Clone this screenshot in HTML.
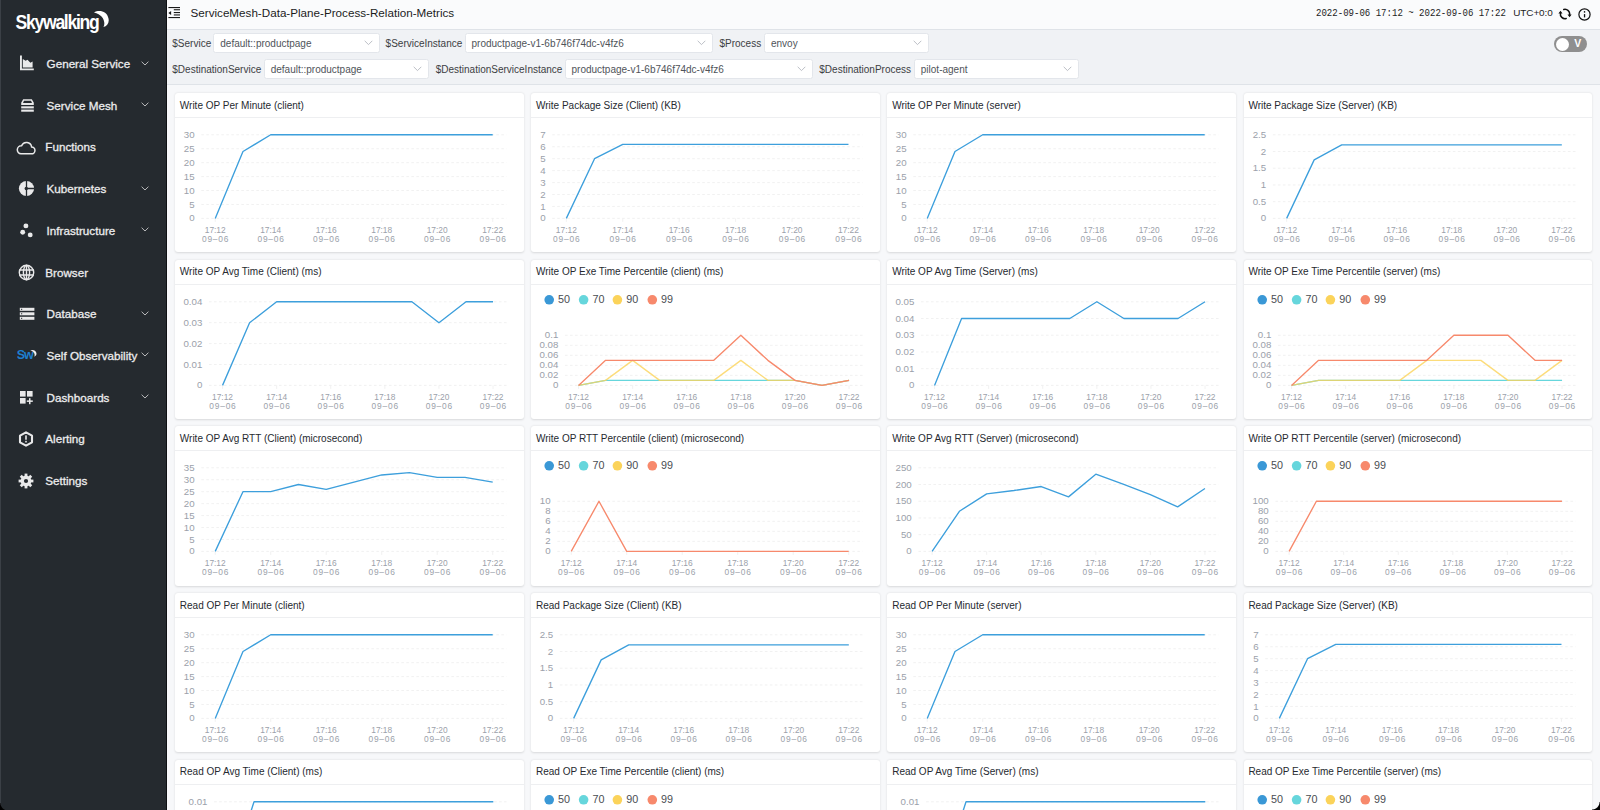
<!DOCTYPE html>
<html><head><meta charset="utf-8"><title>SkyWalking</title>
<style>
*{box-sizing:border-box;margin:0;padding:0}
html,body{width:1600px;height:810px;overflow:hidden;background:#f7f8fa;font-family:'Liberation Sans', sans-serif}
.abs{position:absolute}
#side{position:absolute;left:0;top:0;width:166.7px;height:810px;background:#252a2f;border-right:1.9px solid #0e1013;box-shadow:inset 1px 0 0 #3b4046}
.logo{position:absolute;left:15.6px;top:11.4px;color:#fff;font-weight:700;font-size:17.6px;letter-spacing:-1.3px;transform:scaleY(1.1);transform-origin:0 0;line-height:20px;font-family:'Liberation Sans', sans-serif}
.ni{position:absolute;line-height:0}
.nt{position:absolute;color:#ececed;font-size:11.67px;line-height:15px;white-space:nowrap;-webkit-text-stroke:0.3px #ececed}
#top{position:absolute;left:166px;top:0;width:1434px;height:30px;background:#fafbfc;border-bottom:1px solid #dfe3e8}
#title{position:absolute;left:190.5px;top:5.5px;font-size:11.67px;color:#1c1c1c;white-space:nowrap}
#filt{position:absolute;left:166px;top:30px;width:1434px;height:55px;background:#f0f2f5;border-bottom:1px solid #dfe3e8}
.lab{position:absolute;font-size:10px;color:#3c4043;white-space:nowrap;line-height:14px}
.sel{position:absolute;height:19.6px;background:#fff;border:1px solid #e3e6eb;border-radius:2.5px;font-size:10px;color:#50545a;line-height:17px;white-space:nowrap}
.sel span{position:absolute;left:6px;top:0;transform:translateY(0.6px)}
.sel i{position:absolute;top:6px;line-height:0}
.panel{position:absolute;width:348.8px;height:159.2px;background:#fff;border-radius:3px;box-shadow:0 0.6px 2.2px rgba(0,0,0,0.13);overflow:hidden}
.ph{position:absolute;left:0;top:0;width:100%;height:25.1px;border-bottom:1px solid #eeeff1}
.pt{position:absolute;left:4.8px;top:6.7px;font-size:10px;color:#262a30;white-space:nowrap}
.cs{position:absolute;left:0;top:0}
.ya{font-family:'Liberation Sans', sans-serif;font-size:9.7px;fill:#9ba1aa}
.xa{font-family:'Liberation Sans', sans-serif;font-size:8.4px;fill:#9ba1aa}
.lg{font-family:'Liberation Sans', sans-serif;font-size:10.8px;fill:#4a4d52}
</style></head><body>
<div id="top">
</div>
<div class="abs" style="left:168px;top:6px;line-height:0"><svg width="13" height="13" viewBox="0 0 13 13"><g fill="#1a1a1a"><rect x="0.4" y="1" width="11.6" height="1.1"/><rect x="0.4" y="11" width="11.6" height="1.1"/><rect x="5.8" y="3.2" width="6.2" height="1.1"/><rect x="5.8" y="6" width="6.2" height="1.1"/><rect x="5.8" y="8.4" width="6.2" height="1.1"/><path d="M0.4 6.95 L3.1 4.9 V9 Z"/></g></svg></div>
<div id="title">ServiceMesh-Data-Plane-Process-Relation-Metrics</div>
<div class="abs" style="left:1316px;top:6.3px;font-family:'Liberation Mono', monospace;font-size:11.6px;transform:scaleX(0.78);transform-origin:0 0;color:#1e1e1e;white-space:nowrap">2022-09-06 17:12 ~ 2022-09-06 17:22</div>
<div class="abs" style="left:1513.3px;top:6.6px;font-size:9.95px;letter-spacing:-0.1px;color:#1e1e1e;white-space:nowrap">UTC+0:0</div>
<div class="abs" style="left:1558px;top:8px;line-height:0"><svg width="14" height="13" viewBox="0 0 14 13"><g fill="none" stroke="#111" stroke-width="1.5" stroke-linecap="round"><path d="M5.78 1.46 A4.7 4.7 0 0 1 11.54 7.0"/><path d="M8.22 10.54 A4.7 4.7 0 0 1 2.46 5.0"/></g><path d="M9.5 6.6 L13.6 6.6 L11.6 9.3 Z M0.4 5.4 L4.5 5.4 L2.5 2.7 Z" fill="#111"/></svg></div>
<div class="abs" style="left:1577.5px;top:7.8px;line-height:0"><svg width="13" height="13" viewBox="0 0 13 13"><circle cx="6.5" cy="6.5" r="5.6" fill="none" stroke="#111" stroke-width="1.2"/><rect x="5.9" y="6.1" width="1.3" height="3.3" fill="#111"/><circle cx="6.55" cy="3.9" r="0.8" fill="#111"/></svg></div>
<div id="filt"></div>
<div class="lab" style="left:172.3px;top:37px">$Service</div><div class="sel" style="left:213.3px;top:33.2px;width:166.6px"><span>default::productpage</span><i style="left:149.6px"><svg width="9" height="6" viewBox="0 0 9 6"><path d="M0.7 0.8 L4.5 4.6 L8.3 0.8" fill="none" stroke="#b4b8bf" stroke-width="0.9"/></svg></i></div><div class="lab" style="left:385.6px;top:37px">$ServiceInstance</div><div class="sel" style="left:464.5px;top:33.2px;width:248.8px"><span>productpage-v1-6b746f74dc-v4fz6</span><i style="left:231.8px"><svg width="9" height="6" viewBox="0 0 9 6"><path d="M0.7 0.8 L4.5 4.6 L8.3 0.8" fill="none" stroke="#b4b8bf" stroke-width="0.9"/></svg></i></div><div class="lab" style="left:719.5px;top:37px">$Process</div><div class="sel" style="left:764px;top:33.2px;width:165.3px"><span>envoy</span><i style="left:148.3px"><svg width="9" height="6" viewBox="0 0 9 6"><path d="M0.7 0.8 L4.5 4.6 L8.3 0.8" fill="none" stroke="#b4b8bf" stroke-width="0.9"/></svg></i></div><div class="lab" style="left:172.3px;top:62.8px">$DestinationService</div><div class="sel" style="left:263.7px;top:59.1px;width:165.6px"><span>default::productpage</span><i style="left:148.6px"><svg width="9" height="6" viewBox="0 0 9 6"><path d="M0.7 0.8 L4.5 4.6 L8.3 0.8" fill="none" stroke="#b4b8bf" stroke-width="0.9"/></svg></i></div><div class="lab" style="left:435.7px;top:62.8px">$DestinationServiceInstance</div><div class="sel" style="left:564.5px;top:59.1px;width:248.6px"><span>productpage-v1-6b746f74dc-v4fz6</span><i style="left:231.6px"><svg width="9" height="6" viewBox="0 0 9 6"><path d="M0.7 0.8 L4.5 4.6 L8.3 0.8" fill="none" stroke="#b4b8bf" stroke-width="0.9"/></svg></i></div><div class="lab" style="left:819.3px;top:62.8px">$DestinationProcess</div><div class="sel" style="left:913.8px;top:59.1px;width:165.4px"><span>pilot-agent</span><i style="left:148.4px"><svg width="9" height="6" viewBox="0 0 9 6"><path d="M0.7 0.8 L4.5 4.6 L8.3 0.8" fill="none" stroke="#b4b8bf" stroke-width="0.9"/></svg></i></div>
<div class="abs" style="left:1554px;top:36.3px;width:33px;height:16px;border-radius:8px;background:#8f8f8f"></div>
<div class="abs" style="left:1555.5px;top:37.6px;width:13.4px;height:13.4px;border-radius:50%;background:#fff"></div>
<div class="abs" style="left:1574.3px;top:37.3px;font-size:10.5px;color:#fff;font-weight:700">V</div>
<div class="panel" style="left:175.0px;top:93.2px;height:159.2px">
<div class="ph"><span class="pt">Write OP Per Minute (client)</span></div>
<svg class="cs" width="348.8" height="159.2" viewBox="0 0 348.8 159.2">
<line x1="26.33" y1="125.40" x2="331.60" y2="125.40" stroke="#efefef" stroke-width="0.9" stroke-dasharray="2.6 2.4"/>
<text x="19.63" y="128.50" text-anchor="end" class="ya">0</text>
<line x1="26.33" y1="111.47" x2="331.60" y2="111.47" stroke="#efefef" stroke-width="0.9" stroke-dasharray="2.6 2.4"/>
<text x="19.63" y="114.57" text-anchor="end" class="ya">5</text>
<line x1="26.33" y1="97.53" x2="331.60" y2="97.53" stroke="#efefef" stroke-width="0.9" stroke-dasharray="2.6 2.4"/>
<text x="19.63" y="100.63" text-anchor="end" class="ya">10</text>
<line x1="26.33" y1="83.60" x2="331.60" y2="83.60" stroke="#efefef" stroke-width="0.9" stroke-dasharray="2.6 2.4"/>
<text x="19.63" y="86.70" text-anchor="end" class="ya">15</text>
<line x1="26.33" y1="69.67" x2="331.60" y2="69.67" stroke="#efefef" stroke-width="0.9" stroke-dasharray="2.6 2.4"/>
<text x="19.63" y="72.77" text-anchor="end" class="ya">20</text>
<line x1="26.33" y1="55.73" x2="331.60" y2="55.73" stroke="#efefef" stroke-width="0.9" stroke-dasharray="2.6 2.4"/>
<text x="19.63" y="58.83" text-anchor="end" class="ya">25</text>
<line x1="26.33" y1="41.80" x2="331.60" y2="41.80" stroke="#efefef" stroke-width="0.9" stroke-dasharray="2.6 2.4"/>
<text x="19.63" y="44.90" text-anchor="end" class="ya">30</text>
<line x1="40.21" y1="125.40" x2="40.21" y2="128.90" stroke="#eeeeee" stroke-width="0.8"/>
<text x="40.21" y="139.70" text-anchor="middle" class="xa">17:12</text>
<text x="40.21" y="149.40" text-anchor="middle" class="xa" textLength="26.5" lengthAdjust="spacing">09–06</text>
<line x1="95.71" y1="125.40" x2="95.71" y2="128.90" stroke="#eeeeee" stroke-width="0.8"/>
<text x="95.71" y="139.70" text-anchor="middle" class="xa">17:14</text>
<text x="95.71" y="149.40" text-anchor="middle" class="xa" textLength="26.5" lengthAdjust="spacing">09–06</text>
<line x1="151.21" y1="125.40" x2="151.21" y2="128.90" stroke="#eeeeee" stroke-width="0.8"/>
<text x="151.21" y="139.70" text-anchor="middle" class="xa">17:16</text>
<text x="151.21" y="149.40" text-anchor="middle" class="xa" textLength="26.5" lengthAdjust="spacing">09–06</text>
<line x1="206.72" y1="125.40" x2="206.72" y2="128.90" stroke="#eeeeee" stroke-width="0.8"/>
<text x="206.72" y="139.70" text-anchor="middle" class="xa">17:18</text>
<text x="206.72" y="149.40" text-anchor="middle" class="xa" textLength="26.5" lengthAdjust="spacing">09–06</text>
<line x1="262.22" y1="125.40" x2="262.22" y2="128.90" stroke="#eeeeee" stroke-width="0.8"/>
<text x="262.22" y="139.70" text-anchor="middle" class="xa">17:20</text>
<text x="262.22" y="149.40" text-anchor="middle" class="xa" textLength="26.5" lengthAdjust="spacing">09–06</text>
<line x1="317.72" y1="125.40" x2="317.72" y2="128.90" stroke="#eeeeee" stroke-width="0.8"/>
<text x="317.72" y="139.70" text-anchor="middle" class="xa">17:22</text>
<text x="317.72" y="149.40" text-anchor="middle" class="xa" textLength="26.5" lengthAdjust="spacing">09–06</text>
<polyline points="40.21,125.40 67.96,58.52 95.71,41.80 123.46,41.80 151.21,41.80 178.97,41.80 206.72,41.80 234.47,41.80 262.22,41.80 289.97,41.80 317.72,41.80" fill="none" stroke="#3d9fdc" stroke-width="1.35" stroke-linejoin="round" />
</svg></div><div class="panel" style="left:531.2px;top:93.2px;height:159.2px">
<div class="ph"><span class="pt">Write Package Size (Client) (KB)</span></div>
<svg class="cs" width="348.8" height="159.2" viewBox="0 0 348.8 159.2">
<line x1="21.22" y1="125.40" x2="331.60" y2="125.40" stroke="#efefef" stroke-width="0.9" stroke-dasharray="2.6 2.4"/>
<text x="14.52" y="128.50" text-anchor="end" class="ya">0</text>
<line x1="21.22" y1="113.46" x2="331.60" y2="113.46" stroke="#efefef" stroke-width="0.9" stroke-dasharray="2.6 2.4"/>
<text x="14.52" y="116.56" text-anchor="end" class="ya">1</text>
<line x1="21.22" y1="101.51" x2="331.60" y2="101.51" stroke="#efefef" stroke-width="0.9" stroke-dasharray="2.6 2.4"/>
<text x="14.52" y="104.61" text-anchor="end" class="ya">2</text>
<line x1="21.22" y1="89.57" x2="331.60" y2="89.57" stroke="#efefef" stroke-width="0.9" stroke-dasharray="2.6 2.4"/>
<text x="14.52" y="92.67" text-anchor="end" class="ya">3</text>
<line x1="21.22" y1="77.63" x2="331.60" y2="77.63" stroke="#efefef" stroke-width="0.9" stroke-dasharray="2.6 2.4"/>
<text x="14.52" y="80.73" text-anchor="end" class="ya">4</text>
<line x1="21.22" y1="65.69" x2="331.60" y2="65.69" stroke="#efefef" stroke-width="0.9" stroke-dasharray="2.6 2.4"/>
<text x="14.52" y="68.79" text-anchor="end" class="ya">5</text>
<line x1="21.22" y1="53.74" x2="331.60" y2="53.74" stroke="#efefef" stroke-width="0.9" stroke-dasharray="2.6 2.4"/>
<text x="14.52" y="56.84" text-anchor="end" class="ya">6</text>
<line x1="21.22" y1="41.80" x2="331.60" y2="41.80" stroke="#efefef" stroke-width="0.9" stroke-dasharray="2.6 2.4"/>
<text x="14.52" y="44.90" text-anchor="end" class="ya">7</text>
<line x1="35.32" y1="125.40" x2="35.32" y2="128.90" stroke="#eeeeee" stroke-width="0.8"/>
<text x="35.32" y="139.70" text-anchor="middle" class="xa">17:12</text>
<text x="35.32" y="149.40" text-anchor="middle" class="xa" textLength="26.5" lengthAdjust="spacing">09–06</text>
<line x1="91.76" y1="125.40" x2="91.76" y2="128.90" stroke="#eeeeee" stroke-width="0.8"/>
<text x="91.76" y="139.70" text-anchor="middle" class="xa">17:14</text>
<text x="91.76" y="149.40" text-anchor="middle" class="xa" textLength="26.5" lengthAdjust="spacing">09–06</text>
<line x1="148.19" y1="125.40" x2="148.19" y2="128.90" stroke="#eeeeee" stroke-width="0.8"/>
<text x="148.19" y="139.70" text-anchor="middle" class="xa">17:16</text>
<text x="148.19" y="149.40" text-anchor="middle" class="xa" textLength="26.5" lengthAdjust="spacing">09–06</text>
<line x1="204.62" y1="125.40" x2="204.62" y2="128.90" stroke="#eeeeee" stroke-width="0.8"/>
<text x="204.62" y="139.70" text-anchor="middle" class="xa">17:18</text>
<text x="204.62" y="149.40" text-anchor="middle" class="xa" textLength="26.5" lengthAdjust="spacing">09–06</text>
<line x1="261.06" y1="125.40" x2="261.06" y2="128.90" stroke="#eeeeee" stroke-width="0.8"/>
<text x="261.06" y="139.70" text-anchor="middle" class="xa">17:20</text>
<text x="261.06" y="149.40" text-anchor="middle" class="xa" textLength="26.5" lengthAdjust="spacing">09–06</text>
<line x1="317.49" y1="125.40" x2="317.49" y2="128.90" stroke="#eeeeee" stroke-width="0.8"/>
<text x="317.49" y="139.70" text-anchor="middle" class="xa">17:22</text>
<text x="317.49" y="149.40" text-anchor="middle" class="xa" textLength="26.5" lengthAdjust="spacing">09–06</text>
<polyline points="35.32,125.40 63.54,65.69 91.76,51.35 119.97,51.35 148.19,51.35 176.41,51.35 204.62,51.35 232.84,51.35 261.06,51.35 289.27,51.35 317.49,51.35" fill="none" stroke="#3d9fdc" stroke-width="1.35" stroke-linejoin="round" />
</svg></div><div class="panel" style="left:887.4px;top:93.2px;height:159.2px">
<div class="ph"><span class="pt">Write OP Per Minute (server)</span></div>
<svg class="cs" width="348.8" height="159.2" viewBox="0 0 348.8 159.2">
<line x1="26.33" y1="125.40" x2="331.60" y2="125.40" stroke="#efefef" stroke-width="0.9" stroke-dasharray="2.6 2.4"/>
<text x="19.63" y="128.50" text-anchor="end" class="ya">0</text>
<line x1="26.33" y1="111.47" x2="331.60" y2="111.47" stroke="#efefef" stroke-width="0.9" stroke-dasharray="2.6 2.4"/>
<text x="19.63" y="114.57" text-anchor="end" class="ya">5</text>
<line x1="26.33" y1="97.53" x2="331.60" y2="97.53" stroke="#efefef" stroke-width="0.9" stroke-dasharray="2.6 2.4"/>
<text x="19.63" y="100.63" text-anchor="end" class="ya">10</text>
<line x1="26.33" y1="83.60" x2="331.60" y2="83.60" stroke="#efefef" stroke-width="0.9" stroke-dasharray="2.6 2.4"/>
<text x="19.63" y="86.70" text-anchor="end" class="ya">15</text>
<line x1="26.33" y1="69.67" x2="331.60" y2="69.67" stroke="#efefef" stroke-width="0.9" stroke-dasharray="2.6 2.4"/>
<text x="19.63" y="72.77" text-anchor="end" class="ya">20</text>
<line x1="26.33" y1="55.73" x2="331.60" y2="55.73" stroke="#efefef" stroke-width="0.9" stroke-dasharray="2.6 2.4"/>
<text x="19.63" y="58.83" text-anchor="end" class="ya">25</text>
<line x1="26.33" y1="41.80" x2="331.60" y2="41.80" stroke="#efefef" stroke-width="0.9" stroke-dasharray="2.6 2.4"/>
<text x="19.63" y="44.90" text-anchor="end" class="ya">30</text>
<line x1="40.21" y1="125.40" x2="40.21" y2="128.90" stroke="#eeeeee" stroke-width="0.8"/>
<text x="40.21" y="139.70" text-anchor="middle" class="xa">17:12</text>
<text x="40.21" y="149.40" text-anchor="middle" class="xa" textLength="26.5" lengthAdjust="spacing">09–06</text>
<line x1="95.71" y1="125.40" x2="95.71" y2="128.90" stroke="#eeeeee" stroke-width="0.8"/>
<text x="95.71" y="139.70" text-anchor="middle" class="xa">17:14</text>
<text x="95.71" y="149.40" text-anchor="middle" class="xa" textLength="26.5" lengthAdjust="spacing">09–06</text>
<line x1="151.21" y1="125.40" x2="151.21" y2="128.90" stroke="#eeeeee" stroke-width="0.8"/>
<text x="151.21" y="139.70" text-anchor="middle" class="xa">17:16</text>
<text x="151.21" y="149.40" text-anchor="middle" class="xa" textLength="26.5" lengthAdjust="spacing">09–06</text>
<line x1="206.72" y1="125.40" x2="206.72" y2="128.90" stroke="#eeeeee" stroke-width="0.8"/>
<text x="206.72" y="139.70" text-anchor="middle" class="xa">17:18</text>
<text x="206.72" y="149.40" text-anchor="middle" class="xa" textLength="26.5" lengthAdjust="spacing">09–06</text>
<line x1="262.22" y1="125.40" x2="262.22" y2="128.90" stroke="#eeeeee" stroke-width="0.8"/>
<text x="262.22" y="139.70" text-anchor="middle" class="xa">17:20</text>
<text x="262.22" y="149.40" text-anchor="middle" class="xa" textLength="26.5" lengthAdjust="spacing">09–06</text>
<line x1="317.72" y1="125.40" x2="317.72" y2="128.90" stroke="#eeeeee" stroke-width="0.8"/>
<text x="317.72" y="139.70" text-anchor="middle" class="xa">17:22</text>
<text x="317.72" y="149.40" text-anchor="middle" class="xa" textLength="26.5" lengthAdjust="spacing">09–06</text>
<polyline points="40.21,125.40 67.96,58.52 95.71,41.80 123.46,41.80 151.21,41.80 178.97,41.80 206.72,41.80 234.47,41.80 262.22,41.80 289.97,41.80 317.72,41.80" fill="none" stroke="#3d9fdc" stroke-width="1.35" stroke-linejoin="round" />
</svg></div><div class="panel" style="left:1243.6px;top:93.2px;height:159.2px">
<div class="ph"><span class="pt">Write Package Size (Server) (KB)</span></div>
<svg class="cs" width="348.8" height="159.2" viewBox="0 0 348.8 159.2">
<line x1="28.89" y1="125.40" x2="331.60" y2="125.40" stroke="#efefef" stroke-width="0.9" stroke-dasharray="2.6 2.4"/>
<text x="22.19" y="128.50" text-anchor="end" class="ya">0</text>
<line x1="28.89" y1="108.68" x2="331.60" y2="108.68" stroke="#efefef" stroke-width="0.9" stroke-dasharray="2.6 2.4"/>
<text x="22.19" y="111.78" text-anchor="end" class="ya">0.5</text>
<line x1="28.89" y1="91.96" x2="331.60" y2="91.96" stroke="#efefef" stroke-width="0.9" stroke-dasharray="2.6 2.4"/>
<text x="22.19" y="95.06" text-anchor="end" class="ya">1</text>
<line x1="28.89" y1="75.24" x2="331.60" y2="75.24" stroke="#efefef" stroke-width="0.9" stroke-dasharray="2.6 2.4"/>
<text x="22.19" y="78.34" text-anchor="end" class="ya">1.5</text>
<line x1="28.89" y1="58.52" x2="331.60" y2="58.52" stroke="#efefef" stroke-width="0.9" stroke-dasharray="2.6 2.4"/>
<text x="22.19" y="61.62" text-anchor="end" class="ya">2</text>
<line x1="28.89" y1="41.80" x2="331.60" y2="41.80" stroke="#efefef" stroke-width="0.9" stroke-dasharray="2.6 2.4"/>
<text x="22.19" y="44.90" text-anchor="end" class="ya">2.5</text>
<line x1="42.65" y1="125.40" x2="42.65" y2="128.90" stroke="#eeeeee" stroke-width="0.8"/>
<text x="42.65" y="139.70" text-anchor="middle" class="xa">17:12</text>
<text x="42.65" y="149.40" text-anchor="middle" class="xa" textLength="26.5" lengthAdjust="spacing">09–06</text>
<line x1="97.69" y1="125.40" x2="97.69" y2="128.90" stroke="#eeeeee" stroke-width="0.8"/>
<text x="97.69" y="139.70" text-anchor="middle" class="xa">17:14</text>
<text x="97.69" y="149.40" text-anchor="middle" class="xa" textLength="26.5" lengthAdjust="spacing">09–06</text>
<line x1="152.72" y1="125.40" x2="152.72" y2="128.90" stroke="#eeeeee" stroke-width="0.8"/>
<text x="152.72" y="139.70" text-anchor="middle" class="xa">17:16</text>
<text x="152.72" y="149.40" text-anchor="middle" class="xa" textLength="26.5" lengthAdjust="spacing">09–06</text>
<line x1="207.76" y1="125.40" x2="207.76" y2="128.90" stroke="#eeeeee" stroke-width="0.8"/>
<text x="207.76" y="139.70" text-anchor="middle" class="xa">17:18</text>
<text x="207.76" y="149.40" text-anchor="middle" class="xa" textLength="26.5" lengthAdjust="spacing">09–06</text>
<line x1="262.80" y1="125.40" x2="262.80" y2="128.90" stroke="#eeeeee" stroke-width="0.8"/>
<text x="262.80" y="139.70" text-anchor="middle" class="xa">17:20</text>
<text x="262.80" y="149.40" text-anchor="middle" class="xa" textLength="26.5" lengthAdjust="spacing">09–06</text>
<line x1="317.84" y1="125.40" x2="317.84" y2="128.90" stroke="#eeeeee" stroke-width="0.8"/>
<text x="317.84" y="139.70" text-anchor="middle" class="xa">17:22</text>
<text x="317.84" y="149.40" text-anchor="middle" class="xa" textLength="26.5" lengthAdjust="spacing">09–06</text>
<polyline points="42.65,125.40 70.17,66.88 97.69,51.83 125.21,51.83 152.72,51.83 180.24,51.83 207.76,51.83 235.28,51.83 262.80,51.83 290.32,51.83 317.84,51.83" fill="none" stroke="#3d9fdc" stroke-width="1.35" stroke-linejoin="round" />
</svg></div><div class="panel" style="left:175.0px;top:259.6px;height:159.0px">
<div class="ph"><span class="pt">Write OP Avg Time (Client) (ms)</span></div>
<svg class="cs" width="348.8" height="159.2" viewBox="0 0 348.8 159.2">
<line x1="34.00" y1="125.40" x2="331.60" y2="125.40" stroke="#efefef" stroke-width="0.9" stroke-dasharray="2.6 2.4"/>
<text x="27.30" y="128.50" text-anchor="end" class="ya">0</text>
<line x1="34.00" y1="104.50" x2="331.60" y2="104.50" stroke="#efefef" stroke-width="0.9" stroke-dasharray="2.6 2.4"/>
<text x="27.30" y="107.60" text-anchor="end" class="ya">0.01</text>
<line x1="34.00" y1="83.60" x2="331.60" y2="83.60" stroke="#efefef" stroke-width="0.9" stroke-dasharray="2.6 2.4"/>
<text x="27.30" y="86.70" text-anchor="end" class="ya">0.02</text>
<line x1="34.00" y1="62.70" x2="331.60" y2="62.70" stroke="#efefef" stroke-width="0.9" stroke-dasharray="2.6 2.4"/>
<text x="27.30" y="65.80" text-anchor="end" class="ya">0.03</text>
<line x1="34.00" y1="41.80" x2="331.60" y2="41.80" stroke="#efefef" stroke-width="0.9" stroke-dasharray="2.6 2.4"/>
<text x="27.30" y="44.90" text-anchor="end" class="ya">0.04</text>
<line x1="47.53" y1="125.40" x2="47.53" y2="128.90" stroke="#eeeeee" stroke-width="0.8"/>
<text x="47.53" y="139.70" text-anchor="middle" class="xa">17:12</text>
<text x="47.53" y="149.40" text-anchor="middle" class="xa" textLength="26.5" lengthAdjust="spacing">09–06</text>
<line x1="101.64" y1="125.40" x2="101.64" y2="128.90" stroke="#eeeeee" stroke-width="0.8"/>
<text x="101.64" y="139.70" text-anchor="middle" class="xa">17:14</text>
<text x="101.64" y="149.40" text-anchor="middle" class="xa" textLength="26.5" lengthAdjust="spacing">09–06</text>
<line x1="155.75" y1="125.40" x2="155.75" y2="128.90" stroke="#eeeeee" stroke-width="0.8"/>
<text x="155.75" y="139.70" text-anchor="middle" class="xa">17:16</text>
<text x="155.75" y="149.40" text-anchor="middle" class="xa" textLength="26.5" lengthAdjust="spacing">09–06</text>
<line x1="209.86" y1="125.40" x2="209.86" y2="128.90" stroke="#eeeeee" stroke-width="0.8"/>
<text x="209.86" y="139.70" text-anchor="middle" class="xa">17:18</text>
<text x="209.86" y="149.40" text-anchor="middle" class="xa" textLength="26.5" lengthAdjust="spacing">09–06</text>
<line x1="263.96" y1="125.40" x2="263.96" y2="128.90" stroke="#eeeeee" stroke-width="0.8"/>
<text x="263.96" y="139.70" text-anchor="middle" class="xa">17:20</text>
<text x="263.96" y="149.40" text-anchor="middle" class="xa" textLength="26.5" lengthAdjust="spacing">09–06</text>
<line x1="318.07" y1="125.40" x2="318.07" y2="128.90" stroke="#eeeeee" stroke-width="0.8"/>
<text x="318.07" y="139.70" text-anchor="middle" class="xa">17:22</text>
<text x="318.07" y="149.40" text-anchor="middle" class="xa" textLength="26.5" lengthAdjust="spacing">09–06</text>
<polyline points="47.53,125.40 74.58,62.70 101.64,41.80 128.69,41.80 155.75,41.80 182.80,41.80 209.86,41.80 236.91,41.80 263.96,62.70 291.02,41.80 318.07,41.80" fill="none" stroke="#3d9fdc" stroke-width="1.35" stroke-linejoin="round" />
</svg></div><div class="panel" style="left:531.2px;top:259.6px;height:159.0px">
<div class="ph"><span class="pt">Write OP Exe Time Percentile (client) (ms)</span></div>
<svg class="cs" width="348.8" height="159.2" viewBox="0 0 348.8 159.2">
<line x1="34.00" y1="125.40" x2="331.60" y2="125.40" stroke="#efefef" stroke-width="0.9" stroke-dasharray="2.6 2.4"/>
<text x="27.30" y="128.50" text-anchor="end" class="ya">0</text>
<line x1="34.00" y1="115.38" x2="331.60" y2="115.38" stroke="#efefef" stroke-width="0.9" stroke-dasharray="2.6 2.4"/>
<text x="27.30" y="118.48" text-anchor="end" class="ya">0.02</text>
<line x1="34.00" y1="105.36" x2="331.60" y2="105.36" stroke="#efefef" stroke-width="0.9" stroke-dasharray="2.6 2.4"/>
<text x="27.30" y="108.46" text-anchor="end" class="ya">0.04</text>
<line x1="34.00" y1="95.34" x2="331.60" y2="95.34" stroke="#efefef" stroke-width="0.9" stroke-dasharray="2.6 2.4"/>
<text x="27.30" y="98.44" text-anchor="end" class="ya">0.06</text>
<line x1="34.00" y1="85.32" x2="331.60" y2="85.32" stroke="#efefef" stroke-width="0.9" stroke-dasharray="2.6 2.4"/>
<text x="27.30" y="88.42" text-anchor="end" class="ya">0.08</text>
<line x1="34.00" y1="75.30" x2="331.60" y2="75.30" stroke="#efefef" stroke-width="0.9" stroke-dasharray="2.6 2.4"/>
<text x="27.30" y="78.40" text-anchor="end" class="ya">0.1</text>
<line x1="47.53" y1="125.40" x2="47.53" y2="128.90" stroke="#eeeeee" stroke-width="0.8"/>
<text x="47.53" y="139.70" text-anchor="middle" class="xa">17:12</text>
<text x="47.53" y="149.40" text-anchor="middle" class="xa" textLength="26.5" lengthAdjust="spacing">09–06</text>
<line x1="101.64" y1="125.40" x2="101.64" y2="128.90" stroke="#eeeeee" stroke-width="0.8"/>
<text x="101.64" y="139.70" text-anchor="middle" class="xa">17:14</text>
<text x="101.64" y="149.40" text-anchor="middle" class="xa" textLength="26.5" lengthAdjust="spacing">09–06</text>
<line x1="155.75" y1="125.40" x2="155.75" y2="128.90" stroke="#eeeeee" stroke-width="0.8"/>
<text x="155.75" y="139.70" text-anchor="middle" class="xa">17:16</text>
<text x="155.75" y="149.40" text-anchor="middle" class="xa" textLength="26.5" lengthAdjust="spacing">09–06</text>
<line x1="209.86" y1="125.40" x2="209.86" y2="128.90" stroke="#eeeeee" stroke-width="0.8"/>
<text x="209.86" y="139.70" text-anchor="middle" class="xa">17:18</text>
<text x="209.86" y="149.40" text-anchor="middle" class="xa" textLength="26.5" lengthAdjust="spacing">09–06</text>
<line x1="263.96" y1="125.40" x2="263.96" y2="128.90" stroke="#eeeeee" stroke-width="0.8"/>
<text x="263.96" y="139.70" text-anchor="middle" class="xa">17:20</text>
<text x="263.96" y="149.40" text-anchor="middle" class="xa" textLength="26.5" lengthAdjust="spacing">09–06</text>
<line x1="318.07" y1="125.40" x2="318.07" y2="128.90" stroke="#eeeeee" stroke-width="0.8"/>
<text x="318.07" y="139.70" text-anchor="middle" class="xa">17:22</text>
<text x="318.07" y="149.40" text-anchor="middle" class="xa" textLength="26.5" lengthAdjust="spacing">09–06</text>
<polyline points="47.53,125.40 74.58,120.39 101.64,120.39 128.69,120.39 155.75,120.39 182.80,120.39 209.86,120.39 236.91,120.39 263.96,120.39 291.02,125.40 318.07,120.39" fill="none" stroke="#66d6dc" stroke-width="1.35" stroke-linejoin="round" />
<polyline points="47.53,125.40 74.58,120.39 101.64,100.35 128.69,120.39 155.75,120.39 182.80,120.39 209.86,100.35 236.91,120.39 263.96,120.39 291.02,125.40 318.07,120.39" fill="none" stroke="#fbd35a" stroke-width="1.35" stroke-linejoin="round" stroke-opacity="0.8"/>
<polyline points="47.53,125.40 74.58,100.35 101.64,100.35 128.69,100.35 155.75,100.35 182.80,100.35 209.86,75.30 236.91,100.35 263.96,120.39 291.02,125.40 318.07,120.39" fill="none" stroke="#f7896c" stroke-width="1.35" stroke-linejoin="round" />
<circle cx="18.2" cy="39.8" r="4.8" fill="#3a98d6"/>
<text x="27.0" y="43.5" class="lg">50</text>
<circle cx="52.6" cy="39.8" r="4.8" fill="#66d6dc"/>
<text x="61.400000000000006" y="43.5" class="lg">70</text>
<circle cx="86.4" cy="39.8" r="4.8" fill="#fbd35a"/>
<text x="95.2" y="43.5" class="lg">90</text>
<circle cx="121.30000000000001" cy="39.8" r="4.8" fill="#f7896c"/>
<text x="130.1" y="43.5" class="lg">99</text>
</svg></div><div class="panel" style="left:887.4px;top:259.6px;height:159.0px">
<div class="ph"><span class="pt">Write OP Avg Time (Server) (ms)</span></div>
<svg class="cs" width="348.8" height="159.2" viewBox="0 0 348.8 159.2">
<line x1="34.00" y1="125.40" x2="331.60" y2="125.40" stroke="#efefef" stroke-width="0.9" stroke-dasharray="2.6 2.4"/>
<text x="27.30" y="128.50" text-anchor="end" class="ya">0</text>
<line x1="34.00" y1="108.68" x2="331.60" y2="108.68" stroke="#efefef" stroke-width="0.9" stroke-dasharray="2.6 2.4"/>
<text x="27.30" y="111.78" text-anchor="end" class="ya">0.01</text>
<line x1="34.00" y1="91.96" x2="331.60" y2="91.96" stroke="#efefef" stroke-width="0.9" stroke-dasharray="2.6 2.4"/>
<text x="27.30" y="95.06" text-anchor="end" class="ya">0.02</text>
<line x1="34.00" y1="75.24" x2="331.60" y2="75.24" stroke="#efefef" stroke-width="0.9" stroke-dasharray="2.6 2.4"/>
<text x="27.30" y="78.34" text-anchor="end" class="ya">0.03</text>
<line x1="34.00" y1="58.52" x2="331.60" y2="58.52" stroke="#efefef" stroke-width="0.9" stroke-dasharray="2.6 2.4"/>
<text x="27.30" y="61.62" text-anchor="end" class="ya">0.04</text>
<line x1="34.00" y1="41.80" x2="331.60" y2="41.80" stroke="#efefef" stroke-width="0.9" stroke-dasharray="2.6 2.4"/>
<text x="27.30" y="44.90" text-anchor="end" class="ya">0.05</text>
<line x1="47.53" y1="125.40" x2="47.53" y2="128.90" stroke="#eeeeee" stroke-width="0.8"/>
<text x="47.53" y="139.70" text-anchor="middle" class="xa">17:12</text>
<text x="47.53" y="149.40" text-anchor="middle" class="xa" textLength="26.5" lengthAdjust="spacing">09–06</text>
<line x1="101.64" y1="125.40" x2="101.64" y2="128.90" stroke="#eeeeee" stroke-width="0.8"/>
<text x="101.64" y="139.70" text-anchor="middle" class="xa">17:14</text>
<text x="101.64" y="149.40" text-anchor="middle" class="xa" textLength="26.5" lengthAdjust="spacing">09–06</text>
<line x1="155.75" y1="125.40" x2="155.75" y2="128.90" stroke="#eeeeee" stroke-width="0.8"/>
<text x="155.75" y="139.70" text-anchor="middle" class="xa">17:16</text>
<text x="155.75" y="149.40" text-anchor="middle" class="xa" textLength="26.5" lengthAdjust="spacing">09–06</text>
<line x1="209.86" y1="125.40" x2="209.86" y2="128.90" stroke="#eeeeee" stroke-width="0.8"/>
<text x="209.86" y="139.70" text-anchor="middle" class="xa">17:18</text>
<text x="209.86" y="149.40" text-anchor="middle" class="xa" textLength="26.5" lengthAdjust="spacing">09–06</text>
<line x1="263.96" y1="125.40" x2="263.96" y2="128.90" stroke="#eeeeee" stroke-width="0.8"/>
<text x="263.96" y="139.70" text-anchor="middle" class="xa">17:20</text>
<text x="263.96" y="149.40" text-anchor="middle" class="xa" textLength="26.5" lengthAdjust="spacing">09–06</text>
<line x1="318.07" y1="125.40" x2="318.07" y2="128.90" stroke="#eeeeee" stroke-width="0.8"/>
<text x="318.07" y="139.70" text-anchor="middle" class="xa">17:22</text>
<text x="318.07" y="149.40" text-anchor="middle" class="xa" textLength="26.5" lengthAdjust="spacing">09–06</text>
<polyline points="47.53,125.40 74.58,58.52 101.64,58.52 128.69,58.52 155.75,58.52 182.80,58.52 209.86,41.80 236.91,58.52 263.96,58.52 291.02,58.52 318.07,41.80" fill="none" stroke="#3d9fdc" stroke-width="1.35" stroke-linejoin="round" />
</svg></div><div class="panel" style="left:1243.6px;top:259.6px;height:159.0px">
<div class="ph"><span class="pt">Write OP Exe Time Percentile (server) (ms)</span></div>
<svg class="cs" width="348.8" height="159.2" viewBox="0 0 348.8 159.2">
<line x1="34.00" y1="125.40" x2="331.60" y2="125.40" stroke="#efefef" stroke-width="0.9" stroke-dasharray="2.6 2.4"/>
<text x="27.30" y="128.50" text-anchor="end" class="ya">0</text>
<line x1="34.00" y1="115.38" x2="331.60" y2="115.38" stroke="#efefef" stroke-width="0.9" stroke-dasharray="2.6 2.4"/>
<text x="27.30" y="118.48" text-anchor="end" class="ya">0.02</text>
<line x1="34.00" y1="105.36" x2="331.60" y2="105.36" stroke="#efefef" stroke-width="0.9" stroke-dasharray="2.6 2.4"/>
<text x="27.30" y="108.46" text-anchor="end" class="ya">0.04</text>
<line x1="34.00" y1="95.34" x2="331.60" y2="95.34" stroke="#efefef" stroke-width="0.9" stroke-dasharray="2.6 2.4"/>
<text x="27.30" y="98.44" text-anchor="end" class="ya">0.06</text>
<line x1="34.00" y1="85.32" x2="331.60" y2="85.32" stroke="#efefef" stroke-width="0.9" stroke-dasharray="2.6 2.4"/>
<text x="27.30" y="88.42" text-anchor="end" class="ya">0.08</text>
<line x1="34.00" y1="75.30" x2="331.60" y2="75.30" stroke="#efefef" stroke-width="0.9" stroke-dasharray="2.6 2.4"/>
<text x="27.30" y="78.40" text-anchor="end" class="ya">0.1</text>
<line x1="47.53" y1="125.40" x2="47.53" y2="128.90" stroke="#eeeeee" stroke-width="0.8"/>
<text x="47.53" y="139.70" text-anchor="middle" class="xa">17:12</text>
<text x="47.53" y="149.40" text-anchor="middle" class="xa" textLength="26.5" lengthAdjust="spacing">09–06</text>
<line x1="101.64" y1="125.40" x2="101.64" y2="128.90" stroke="#eeeeee" stroke-width="0.8"/>
<text x="101.64" y="139.70" text-anchor="middle" class="xa">17:14</text>
<text x="101.64" y="149.40" text-anchor="middle" class="xa" textLength="26.5" lengthAdjust="spacing">09–06</text>
<line x1="155.75" y1="125.40" x2="155.75" y2="128.90" stroke="#eeeeee" stroke-width="0.8"/>
<text x="155.75" y="139.70" text-anchor="middle" class="xa">17:16</text>
<text x="155.75" y="149.40" text-anchor="middle" class="xa" textLength="26.5" lengthAdjust="spacing">09–06</text>
<line x1="209.86" y1="125.40" x2="209.86" y2="128.90" stroke="#eeeeee" stroke-width="0.8"/>
<text x="209.86" y="139.70" text-anchor="middle" class="xa">17:18</text>
<text x="209.86" y="149.40" text-anchor="middle" class="xa" textLength="26.5" lengthAdjust="spacing">09–06</text>
<line x1="263.96" y1="125.40" x2="263.96" y2="128.90" stroke="#eeeeee" stroke-width="0.8"/>
<text x="263.96" y="139.70" text-anchor="middle" class="xa">17:20</text>
<text x="263.96" y="149.40" text-anchor="middle" class="xa" textLength="26.5" lengthAdjust="spacing">09–06</text>
<line x1="318.07" y1="125.40" x2="318.07" y2="128.90" stroke="#eeeeee" stroke-width="0.8"/>
<text x="318.07" y="139.70" text-anchor="middle" class="xa">17:22</text>
<text x="318.07" y="149.40" text-anchor="middle" class="xa" textLength="26.5" lengthAdjust="spacing">09–06</text>
<polyline points="47.53,125.40 74.58,120.39 101.64,120.39 128.69,120.39 155.75,120.39 182.80,120.39 209.86,120.39 236.91,120.39 263.96,120.39 291.02,120.39 318.07,120.39" fill="none" stroke="#66d6dc" stroke-width="1.35" stroke-linejoin="round" />
<polyline points="47.53,125.40 74.58,120.39 101.64,120.39 128.69,120.39 155.75,120.39 182.80,100.35 209.86,100.35 236.91,100.35 263.96,120.39 291.02,120.39 318.07,100.35" fill="none" stroke="#fbd35a" stroke-width="1.35" stroke-linejoin="round" stroke-opacity="0.8"/>
<polyline points="47.53,125.40 74.58,100.35 101.64,100.35 128.69,100.35 155.75,100.35 182.80,100.35 209.86,75.30 236.91,75.30 263.96,75.30 291.02,100.35 318.07,100.35" fill="none" stroke="#f7896c" stroke-width="1.35" stroke-linejoin="round" />
<circle cx="18.2" cy="39.8" r="4.8" fill="#3a98d6"/>
<text x="27.0" y="43.5" class="lg">50</text>
<circle cx="52.6" cy="39.8" r="4.8" fill="#66d6dc"/>
<text x="61.400000000000006" y="43.5" class="lg">70</text>
<circle cx="86.4" cy="39.8" r="4.8" fill="#fbd35a"/>
<text x="95.2" y="43.5" class="lg">90</text>
<circle cx="121.30000000000001" cy="39.8" r="4.8" fill="#f7896c"/>
<text x="130.1" y="43.5" class="lg">99</text>
</svg></div><div class="panel" style="left:175.0px;top:426.2px;height:159.4px">
<div class="ph"><span class="pt">Write OP Avg RTT (Client) (microsecond)</span></div>
<svg class="cs" width="348.8" height="159.2" viewBox="0 0 348.8 159.2">
<line x1="26.33" y1="125.40" x2="331.60" y2="125.40" stroke="#efefef" stroke-width="0.9" stroke-dasharray="2.6 2.4"/>
<text x="19.63" y="128.50" text-anchor="end" class="ya">0</text>
<line x1="26.33" y1="113.46" x2="331.60" y2="113.46" stroke="#efefef" stroke-width="0.9" stroke-dasharray="2.6 2.4"/>
<text x="19.63" y="116.56" text-anchor="end" class="ya">5</text>
<line x1="26.33" y1="101.51" x2="331.60" y2="101.51" stroke="#efefef" stroke-width="0.9" stroke-dasharray="2.6 2.4"/>
<text x="19.63" y="104.61" text-anchor="end" class="ya">10</text>
<line x1="26.33" y1="89.57" x2="331.60" y2="89.57" stroke="#efefef" stroke-width="0.9" stroke-dasharray="2.6 2.4"/>
<text x="19.63" y="92.67" text-anchor="end" class="ya">15</text>
<line x1="26.33" y1="77.63" x2="331.60" y2="77.63" stroke="#efefef" stroke-width="0.9" stroke-dasharray="2.6 2.4"/>
<text x="19.63" y="80.73" text-anchor="end" class="ya">20</text>
<line x1="26.33" y1="65.69" x2="331.60" y2="65.69" stroke="#efefef" stroke-width="0.9" stroke-dasharray="2.6 2.4"/>
<text x="19.63" y="68.79" text-anchor="end" class="ya">25</text>
<line x1="26.33" y1="53.74" x2="331.60" y2="53.74" stroke="#efefef" stroke-width="0.9" stroke-dasharray="2.6 2.4"/>
<text x="19.63" y="56.84" text-anchor="end" class="ya">30</text>
<line x1="26.33" y1="41.80" x2="331.60" y2="41.80" stroke="#efefef" stroke-width="0.9" stroke-dasharray="2.6 2.4"/>
<text x="19.63" y="44.90" text-anchor="end" class="ya">35</text>
<line x1="40.21" y1="125.40" x2="40.21" y2="128.90" stroke="#eeeeee" stroke-width="0.8"/>
<text x="40.21" y="139.70" text-anchor="middle" class="xa">17:12</text>
<text x="40.21" y="149.40" text-anchor="middle" class="xa" textLength="26.5" lengthAdjust="spacing">09–06</text>
<line x1="95.71" y1="125.40" x2="95.71" y2="128.90" stroke="#eeeeee" stroke-width="0.8"/>
<text x="95.71" y="139.70" text-anchor="middle" class="xa">17:14</text>
<text x="95.71" y="149.40" text-anchor="middle" class="xa" textLength="26.5" lengthAdjust="spacing">09–06</text>
<line x1="151.21" y1="125.40" x2="151.21" y2="128.90" stroke="#eeeeee" stroke-width="0.8"/>
<text x="151.21" y="139.70" text-anchor="middle" class="xa">17:16</text>
<text x="151.21" y="149.40" text-anchor="middle" class="xa" textLength="26.5" lengthAdjust="spacing">09–06</text>
<line x1="206.72" y1="125.40" x2="206.72" y2="128.90" stroke="#eeeeee" stroke-width="0.8"/>
<text x="206.72" y="139.70" text-anchor="middle" class="xa">17:18</text>
<text x="206.72" y="149.40" text-anchor="middle" class="xa" textLength="26.5" lengthAdjust="spacing">09–06</text>
<line x1="262.22" y1="125.40" x2="262.22" y2="128.90" stroke="#eeeeee" stroke-width="0.8"/>
<text x="262.22" y="139.70" text-anchor="middle" class="xa">17:20</text>
<text x="262.22" y="149.40" text-anchor="middle" class="xa" textLength="26.5" lengthAdjust="spacing">09–06</text>
<line x1="317.72" y1="125.40" x2="317.72" y2="128.90" stroke="#eeeeee" stroke-width="0.8"/>
<text x="317.72" y="139.70" text-anchor="middle" class="xa">17:22</text>
<text x="317.72" y="149.40" text-anchor="middle" class="xa" textLength="26.5" lengthAdjust="spacing">09–06</text>
<polyline points="40.21,125.40 67.96,65.69 95.71,65.69 123.46,58.52 151.21,63.30 178.97,56.13 206.72,48.97 234.47,46.58 262.22,51.35 289.97,51.35 317.72,56.13" fill="none" stroke="#3d9fdc" stroke-width="1.35" stroke-linejoin="round" />
</svg></div><div class="panel" style="left:531.2px;top:426.2px;height:159.4px">
<div class="ph"><span class="pt">Write OP RTT Percentile (client) (microsecond)</span></div>
<svg class="cs" width="348.8" height="159.2" viewBox="0 0 348.8 159.2">
<line x1="26.33" y1="125.40" x2="331.60" y2="125.40" stroke="#efefef" stroke-width="0.9" stroke-dasharray="2.6 2.4"/>
<text x="19.63" y="128.50" text-anchor="end" class="ya">0</text>
<line x1="26.33" y1="115.38" x2="331.60" y2="115.38" stroke="#efefef" stroke-width="0.9" stroke-dasharray="2.6 2.4"/>
<text x="19.63" y="118.48" text-anchor="end" class="ya">2</text>
<line x1="26.33" y1="105.36" x2="331.60" y2="105.36" stroke="#efefef" stroke-width="0.9" stroke-dasharray="2.6 2.4"/>
<text x="19.63" y="108.46" text-anchor="end" class="ya">4</text>
<line x1="26.33" y1="95.34" x2="331.60" y2="95.34" stroke="#efefef" stroke-width="0.9" stroke-dasharray="2.6 2.4"/>
<text x="19.63" y="98.44" text-anchor="end" class="ya">6</text>
<line x1="26.33" y1="85.32" x2="331.60" y2="85.32" stroke="#efefef" stroke-width="0.9" stroke-dasharray="2.6 2.4"/>
<text x="19.63" y="88.42" text-anchor="end" class="ya">8</text>
<line x1="26.33" y1="75.30" x2="331.60" y2="75.30" stroke="#efefef" stroke-width="0.9" stroke-dasharray="2.6 2.4"/>
<text x="19.63" y="78.40" text-anchor="end" class="ya">10</text>
<line x1="40.21" y1="125.40" x2="40.21" y2="128.90" stroke="#eeeeee" stroke-width="0.8"/>
<text x="40.21" y="139.70" text-anchor="middle" class="xa">17:12</text>
<text x="40.21" y="149.40" text-anchor="middle" class="xa" textLength="26.5" lengthAdjust="spacing">09–06</text>
<line x1="95.71" y1="125.40" x2="95.71" y2="128.90" stroke="#eeeeee" stroke-width="0.8"/>
<text x="95.71" y="139.70" text-anchor="middle" class="xa">17:14</text>
<text x="95.71" y="149.40" text-anchor="middle" class="xa" textLength="26.5" lengthAdjust="spacing">09–06</text>
<line x1="151.21" y1="125.40" x2="151.21" y2="128.90" stroke="#eeeeee" stroke-width="0.8"/>
<text x="151.21" y="139.70" text-anchor="middle" class="xa">17:16</text>
<text x="151.21" y="149.40" text-anchor="middle" class="xa" textLength="26.5" lengthAdjust="spacing">09–06</text>
<line x1="206.72" y1="125.40" x2="206.72" y2="128.90" stroke="#eeeeee" stroke-width="0.8"/>
<text x="206.72" y="139.70" text-anchor="middle" class="xa">17:18</text>
<text x="206.72" y="149.40" text-anchor="middle" class="xa" textLength="26.5" lengthAdjust="spacing">09–06</text>
<line x1="262.22" y1="125.40" x2="262.22" y2="128.90" stroke="#eeeeee" stroke-width="0.8"/>
<text x="262.22" y="139.70" text-anchor="middle" class="xa">17:20</text>
<text x="262.22" y="149.40" text-anchor="middle" class="xa" textLength="26.5" lengthAdjust="spacing">09–06</text>
<line x1="317.72" y1="125.40" x2="317.72" y2="128.90" stroke="#eeeeee" stroke-width="0.8"/>
<text x="317.72" y="139.70" text-anchor="middle" class="xa">17:22</text>
<text x="317.72" y="149.40" text-anchor="middle" class="xa" textLength="26.5" lengthAdjust="spacing">09–06</text>
<polyline points="40.21,125.40 67.96,75.30 95.71,125.40 123.46,125.40 151.21,125.40 178.97,125.40 206.72,125.40 234.47,125.40 262.22,125.40 289.97,125.40 317.72,125.40" fill="none" stroke="#f7896c" stroke-width="1.35" stroke-linejoin="round" />
<circle cx="18.2" cy="39.8" r="4.8" fill="#3a98d6"/>
<text x="27.0" y="43.5" class="lg">50</text>
<circle cx="52.6" cy="39.8" r="4.8" fill="#66d6dc"/>
<text x="61.400000000000006" y="43.5" class="lg">70</text>
<circle cx="86.4" cy="39.8" r="4.8" fill="#fbd35a"/>
<text x="95.2" y="43.5" class="lg">90</text>
<circle cx="121.30000000000001" cy="39.8" r="4.8" fill="#f7896c"/>
<text x="130.1" y="43.5" class="lg">99</text>
</svg></div><div class="panel" style="left:887.4px;top:426.2px;height:159.4px">
<div class="ph"><span class="pt">Write OP Avg RTT (Server) (microsecond)</span></div>
<svg class="cs" width="348.8" height="159.2" viewBox="0 0 348.8 159.2">
<line x1="31.45" y1="125.40" x2="331.60" y2="125.40" stroke="#efefef" stroke-width="0.9" stroke-dasharray="2.6 2.4"/>
<text x="24.75" y="128.50" text-anchor="end" class="ya">0</text>
<line x1="31.45" y1="108.68" x2="331.60" y2="108.68" stroke="#efefef" stroke-width="0.9" stroke-dasharray="2.6 2.4"/>
<text x="24.75" y="111.78" text-anchor="end" class="ya">50</text>
<line x1="31.45" y1="91.96" x2="331.60" y2="91.96" stroke="#efefef" stroke-width="0.9" stroke-dasharray="2.6 2.4"/>
<text x="24.75" y="95.06" text-anchor="end" class="ya">100</text>
<line x1="31.45" y1="75.24" x2="331.60" y2="75.24" stroke="#efefef" stroke-width="0.9" stroke-dasharray="2.6 2.4"/>
<text x="24.75" y="78.34" text-anchor="end" class="ya">150</text>
<line x1="31.45" y1="58.52" x2="331.60" y2="58.52" stroke="#efefef" stroke-width="0.9" stroke-dasharray="2.6 2.4"/>
<text x="24.75" y="61.62" text-anchor="end" class="ya">200</text>
<line x1="31.45" y1="41.80" x2="331.60" y2="41.80" stroke="#efefef" stroke-width="0.9" stroke-dasharray="2.6 2.4"/>
<text x="24.75" y="44.90" text-anchor="end" class="ya">250</text>
<line x1="45.09" y1="125.40" x2="45.09" y2="128.90" stroke="#eeeeee" stroke-width="0.8"/>
<text x="45.09" y="139.70" text-anchor="middle" class="xa">17:12</text>
<text x="45.09" y="149.40" text-anchor="middle" class="xa" textLength="26.5" lengthAdjust="spacing">09–06</text>
<line x1="99.66" y1="125.40" x2="99.66" y2="128.90" stroke="#eeeeee" stroke-width="0.8"/>
<text x="99.66" y="139.70" text-anchor="middle" class="xa">17:14</text>
<text x="99.66" y="149.40" text-anchor="middle" class="xa" textLength="26.5" lengthAdjust="spacing">09–06</text>
<line x1="154.24" y1="125.40" x2="154.24" y2="128.90" stroke="#eeeeee" stroke-width="0.8"/>
<text x="154.24" y="139.70" text-anchor="middle" class="xa">17:16</text>
<text x="154.24" y="149.40" text-anchor="middle" class="xa" textLength="26.5" lengthAdjust="spacing">09–06</text>
<line x1="208.81" y1="125.40" x2="208.81" y2="128.90" stroke="#eeeeee" stroke-width="0.8"/>
<text x="208.81" y="139.70" text-anchor="middle" class="xa">17:18</text>
<text x="208.81" y="149.40" text-anchor="middle" class="xa" textLength="26.5" lengthAdjust="spacing">09–06</text>
<line x1="263.38" y1="125.40" x2="263.38" y2="128.90" stroke="#eeeeee" stroke-width="0.8"/>
<text x="263.38" y="139.70" text-anchor="middle" class="xa">17:20</text>
<text x="263.38" y="149.40" text-anchor="middle" class="xa" textLength="26.5" lengthAdjust="spacing">09–06</text>
<line x1="317.96" y1="125.40" x2="317.96" y2="128.90" stroke="#eeeeee" stroke-width="0.8"/>
<text x="317.96" y="139.70" text-anchor="middle" class="xa">17:22</text>
<text x="317.96" y="149.40" text-anchor="middle" class="xa" textLength="26.5" lengthAdjust="spacing">09–06</text>
<polyline points="45.09,125.40 72.38,85.27 99.66,67.88 126.95,64.54 154.24,60.53 181.52,70.89 208.81,48.15 236.10,58.19 263.38,68.55 290.67,80.92 317.96,62.53" fill="none" stroke="#3d9fdc" stroke-width="1.35" stroke-linejoin="round" />
</svg></div><div class="panel" style="left:1243.6px;top:426.2px;height:159.4px">
<div class="ph"><span class="pt">Write OP RTT Percentile (server) (microsecond)</span></div>
<svg class="cs" width="348.8" height="159.2" viewBox="0 0 348.8 159.2">
<line x1="31.45" y1="125.40" x2="331.60" y2="125.40" stroke="#efefef" stroke-width="0.9" stroke-dasharray="2.6 2.4"/>
<text x="24.75" y="128.50" text-anchor="end" class="ya">0</text>
<line x1="31.45" y1="115.38" x2="331.60" y2="115.38" stroke="#efefef" stroke-width="0.9" stroke-dasharray="2.6 2.4"/>
<text x="24.75" y="118.48" text-anchor="end" class="ya">20</text>
<line x1="31.45" y1="105.36" x2="331.60" y2="105.36" stroke="#efefef" stroke-width="0.9" stroke-dasharray="2.6 2.4"/>
<text x="24.75" y="108.46" text-anchor="end" class="ya">40</text>
<line x1="31.45" y1="95.34" x2="331.60" y2="95.34" stroke="#efefef" stroke-width="0.9" stroke-dasharray="2.6 2.4"/>
<text x="24.75" y="98.44" text-anchor="end" class="ya">60</text>
<line x1="31.45" y1="85.32" x2="331.60" y2="85.32" stroke="#efefef" stroke-width="0.9" stroke-dasharray="2.6 2.4"/>
<text x="24.75" y="88.42" text-anchor="end" class="ya">80</text>
<line x1="31.45" y1="75.30" x2="331.60" y2="75.30" stroke="#efefef" stroke-width="0.9" stroke-dasharray="2.6 2.4"/>
<text x="24.75" y="78.40" text-anchor="end" class="ya">100</text>
<line x1="45.09" y1="125.40" x2="45.09" y2="128.90" stroke="#eeeeee" stroke-width="0.8"/>
<text x="45.09" y="139.70" text-anchor="middle" class="xa">17:12</text>
<text x="45.09" y="149.40" text-anchor="middle" class="xa" textLength="26.5" lengthAdjust="spacing">09–06</text>
<line x1="99.66" y1="125.40" x2="99.66" y2="128.90" stroke="#eeeeee" stroke-width="0.8"/>
<text x="99.66" y="139.70" text-anchor="middle" class="xa">17:14</text>
<text x="99.66" y="149.40" text-anchor="middle" class="xa" textLength="26.5" lengthAdjust="spacing">09–06</text>
<line x1="154.24" y1="125.40" x2="154.24" y2="128.90" stroke="#eeeeee" stroke-width="0.8"/>
<text x="154.24" y="139.70" text-anchor="middle" class="xa">17:16</text>
<text x="154.24" y="149.40" text-anchor="middle" class="xa" textLength="26.5" lengthAdjust="spacing">09–06</text>
<line x1="208.81" y1="125.40" x2="208.81" y2="128.90" stroke="#eeeeee" stroke-width="0.8"/>
<text x="208.81" y="139.70" text-anchor="middle" class="xa">17:18</text>
<text x="208.81" y="149.40" text-anchor="middle" class="xa" textLength="26.5" lengthAdjust="spacing">09–06</text>
<line x1="263.38" y1="125.40" x2="263.38" y2="128.90" stroke="#eeeeee" stroke-width="0.8"/>
<text x="263.38" y="139.70" text-anchor="middle" class="xa">17:20</text>
<text x="263.38" y="149.40" text-anchor="middle" class="xa" textLength="26.5" lengthAdjust="spacing">09–06</text>
<line x1="317.96" y1="125.40" x2="317.96" y2="128.90" stroke="#eeeeee" stroke-width="0.8"/>
<text x="317.96" y="139.70" text-anchor="middle" class="xa">17:22</text>
<text x="317.96" y="149.40" text-anchor="middle" class="xa" textLength="26.5" lengthAdjust="spacing">09–06</text>
<polyline points="45.09,125.40 72.38,75.30 99.66,75.30 126.95,75.30 154.24,75.30 181.52,75.30 208.81,75.30 236.10,75.30 263.38,75.30 290.67,75.30 317.96,75.30" fill="none" stroke="#f7896c" stroke-width="1.35" stroke-linejoin="round" />
<circle cx="18.2" cy="39.8" r="4.8" fill="#3a98d6"/>
<text x="27.0" y="43.5" class="lg">50</text>
<circle cx="52.6" cy="39.8" r="4.8" fill="#66d6dc"/>
<text x="61.400000000000006" y="43.5" class="lg">70</text>
<circle cx="86.4" cy="39.8" r="4.8" fill="#fbd35a"/>
<text x="95.2" y="43.5" class="lg">90</text>
<circle cx="121.30000000000001" cy="39.8" r="4.8" fill="#f7896c"/>
<text x="130.1" y="43.5" class="lg">99</text>
</svg></div><div class="panel" style="left:175.0px;top:593.0px;height:159.4px">
<div class="ph"><span class="pt">Read OP Per Minute (client)</span></div>
<svg class="cs" width="348.8" height="159.2" viewBox="0 0 348.8 159.2">
<line x1="26.33" y1="125.40" x2="331.60" y2="125.40" stroke="#efefef" stroke-width="0.9" stroke-dasharray="2.6 2.4"/>
<text x="19.63" y="128.50" text-anchor="end" class="ya">0</text>
<line x1="26.33" y1="111.47" x2="331.60" y2="111.47" stroke="#efefef" stroke-width="0.9" stroke-dasharray="2.6 2.4"/>
<text x="19.63" y="114.57" text-anchor="end" class="ya">5</text>
<line x1="26.33" y1="97.53" x2="331.60" y2="97.53" stroke="#efefef" stroke-width="0.9" stroke-dasharray="2.6 2.4"/>
<text x="19.63" y="100.63" text-anchor="end" class="ya">10</text>
<line x1="26.33" y1="83.60" x2="331.60" y2="83.60" stroke="#efefef" stroke-width="0.9" stroke-dasharray="2.6 2.4"/>
<text x="19.63" y="86.70" text-anchor="end" class="ya">15</text>
<line x1="26.33" y1="69.67" x2="331.60" y2="69.67" stroke="#efefef" stroke-width="0.9" stroke-dasharray="2.6 2.4"/>
<text x="19.63" y="72.77" text-anchor="end" class="ya">20</text>
<line x1="26.33" y1="55.73" x2="331.60" y2="55.73" stroke="#efefef" stroke-width="0.9" stroke-dasharray="2.6 2.4"/>
<text x="19.63" y="58.83" text-anchor="end" class="ya">25</text>
<line x1="26.33" y1="41.80" x2="331.60" y2="41.80" stroke="#efefef" stroke-width="0.9" stroke-dasharray="2.6 2.4"/>
<text x="19.63" y="44.90" text-anchor="end" class="ya">30</text>
<line x1="40.21" y1="125.40" x2="40.21" y2="128.90" stroke="#eeeeee" stroke-width="0.8"/>
<text x="40.21" y="139.70" text-anchor="middle" class="xa">17:12</text>
<text x="40.21" y="149.40" text-anchor="middle" class="xa" textLength="26.5" lengthAdjust="spacing">09–06</text>
<line x1="95.71" y1="125.40" x2="95.71" y2="128.90" stroke="#eeeeee" stroke-width="0.8"/>
<text x="95.71" y="139.70" text-anchor="middle" class="xa">17:14</text>
<text x="95.71" y="149.40" text-anchor="middle" class="xa" textLength="26.5" lengthAdjust="spacing">09–06</text>
<line x1="151.21" y1="125.40" x2="151.21" y2="128.90" stroke="#eeeeee" stroke-width="0.8"/>
<text x="151.21" y="139.70" text-anchor="middle" class="xa">17:16</text>
<text x="151.21" y="149.40" text-anchor="middle" class="xa" textLength="26.5" lengthAdjust="spacing">09–06</text>
<line x1="206.72" y1="125.40" x2="206.72" y2="128.90" stroke="#eeeeee" stroke-width="0.8"/>
<text x="206.72" y="139.70" text-anchor="middle" class="xa">17:18</text>
<text x="206.72" y="149.40" text-anchor="middle" class="xa" textLength="26.5" lengthAdjust="spacing">09–06</text>
<line x1="262.22" y1="125.40" x2="262.22" y2="128.90" stroke="#eeeeee" stroke-width="0.8"/>
<text x="262.22" y="139.70" text-anchor="middle" class="xa">17:20</text>
<text x="262.22" y="149.40" text-anchor="middle" class="xa" textLength="26.5" lengthAdjust="spacing">09–06</text>
<line x1="317.72" y1="125.40" x2="317.72" y2="128.90" stroke="#eeeeee" stroke-width="0.8"/>
<text x="317.72" y="139.70" text-anchor="middle" class="xa">17:22</text>
<text x="317.72" y="149.40" text-anchor="middle" class="xa" textLength="26.5" lengthAdjust="spacing">09–06</text>
<polyline points="40.21,125.40 67.96,58.52 95.71,41.80 123.46,41.80 151.21,41.80 178.97,41.80 206.72,41.80 234.47,41.80 262.22,41.80 289.97,41.80 317.72,41.80" fill="none" stroke="#3d9fdc" stroke-width="1.35" stroke-linejoin="round" />
</svg></div><div class="panel" style="left:531.2px;top:593.0px;height:159.4px">
<div class="ph"><span class="pt">Read Package Size (Client) (KB)</span></div>
<svg class="cs" width="348.8" height="159.2" viewBox="0 0 348.8 159.2">
<line x1="28.89" y1="125.40" x2="331.60" y2="125.40" stroke="#efefef" stroke-width="0.9" stroke-dasharray="2.6 2.4"/>
<text x="22.19" y="128.50" text-anchor="end" class="ya">0</text>
<line x1="28.89" y1="108.68" x2="331.60" y2="108.68" stroke="#efefef" stroke-width="0.9" stroke-dasharray="2.6 2.4"/>
<text x="22.19" y="111.78" text-anchor="end" class="ya">0.5</text>
<line x1="28.89" y1="91.96" x2="331.60" y2="91.96" stroke="#efefef" stroke-width="0.9" stroke-dasharray="2.6 2.4"/>
<text x="22.19" y="95.06" text-anchor="end" class="ya">1</text>
<line x1="28.89" y1="75.24" x2="331.60" y2="75.24" stroke="#efefef" stroke-width="0.9" stroke-dasharray="2.6 2.4"/>
<text x="22.19" y="78.34" text-anchor="end" class="ya">1.5</text>
<line x1="28.89" y1="58.52" x2="331.60" y2="58.52" stroke="#efefef" stroke-width="0.9" stroke-dasharray="2.6 2.4"/>
<text x="22.19" y="61.62" text-anchor="end" class="ya">2</text>
<line x1="28.89" y1="41.80" x2="331.60" y2="41.80" stroke="#efefef" stroke-width="0.9" stroke-dasharray="2.6 2.4"/>
<text x="22.19" y="44.90" text-anchor="end" class="ya">2.5</text>
<line x1="42.65" y1="125.40" x2="42.65" y2="128.90" stroke="#eeeeee" stroke-width="0.8"/>
<text x="42.65" y="139.70" text-anchor="middle" class="xa">17:12</text>
<text x="42.65" y="149.40" text-anchor="middle" class="xa" textLength="26.5" lengthAdjust="spacing">09–06</text>
<line x1="97.69" y1="125.40" x2="97.69" y2="128.90" stroke="#eeeeee" stroke-width="0.8"/>
<text x="97.69" y="139.70" text-anchor="middle" class="xa">17:14</text>
<text x="97.69" y="149.40" text-anchor="middle" class="xa" textLength="26.5" lengthAdjust="spacing">09–06</text>
<line x1="152.72" y1="125.40" x2="152.72" y2="128.90" stroke="#eeeeee" stroke-width="0.8"/>
<text x="152.72" y="139.70" text-anchor="middle" class="xa">17:16</text>
<text x="152.72" y="149.40" text-anchor="middle" class="xa" textLength="26.5" lengthAdjust="spacing">09–06</text>
<line x1="207.76" y1="125.40" x2="207.76" y2="128.90" stroke="#eeeeee" stroke-width="0.8"/>
<text x="207.76" y="139.70" text-anchor="middle" class="xa">17:18</text>
<text x="207.76" y="149.40" text-anchor="middle" class="xa" textLength="26.5" lengthAdjust="spacing">09–06</text>
<line x1="262.80" y1="125.40" x2="262.80" y2="128.90" stroke="#eeeeee" stroke-width="0.8"/>
<text x="262.80" y="139.70" text-anchor="middle" class="xa">17:20</text>
<text x="262.80" y="149.40" text-anchor="middle" class="xa" textLength="26.5" lengthAdjust="spacing">09–06</text>
<line x1="317.84" y1="125.40" x2="317.84" y2="128.90" stroke="#eeeeee" stroke-width="0.8"/>
<text x="317.84" y="139.70" text-anchor="middle" class="xa">17:22</text>
<text x="317.84" y="149.40" text-anchor="middle" class="xa" textLength="26.5" lengthAdjust="spacing">09–06</text>
<polyline points="42.65,125.40 70.17,66.88 97.69,51.83 125.21,51.83 152.72,51.83 180.24,51.83 207.76,51.83 235.28,51.83 262.80,51.83 290.32,51.83 317.84,51.83" fill="none" stroke="#3d9fdc" stroke-width="1.35" stroke-linejoin="round" />
</svg></div><div class="panel" style="left:887.4px;top:593.0px;height:159.4px">
<div class="ph"><span class="pt">Read OP Per Minute (server)</span></div>
<svg class="cs" width="348.8" height="159.2" viewBox="0 0 348.8 159.2">
<line x1="26.33" y1="125.40" x2="331.60" y2="125.40" stroke="#efefef" stroke-width="0.9" stroke-dasharray="2.6 2.4"/>
<text x="19.63" y="128.50" text-anchor="end" class="ya">0</text>
<line x1="26.33" y1="111.47" x2="331.60" y2="111.47" stroke="#efefef" stroke-width="0.9" stroke-dasharray="2.6 2.4"/>
<text x="19.63" y="114.57" text-anchor="end" class="ya">5</text>
<line x1="26.33" y1="97.53" x2="331.60" y2="97.53" stroke="#efefef" stroke-width="0.9" stroke-dasharray="2.6 2.4"/>
<text x="19.63" y="100.63" text-anchor="end" class="ya">10</text>
<line x1="26.33" y1="83.60" x2="331.60" y2="83.60" stroke="#efefef" stroke-width="0.9" stroke-dasharray="2.6 2.4"/>
<text x="19.63" y="86.70" text-anchor="end" class="ya">15</text>
<line x1="26.33" y1="69.67" x2="331.60" y2="69.67" stroke="#efefef" stroke-width="0.9" stroke-dasharray="2.6 2.4"/>
<text x="19.63" y="72.77" text-anchor="end" class="ya">20</text>
<line x1="26.33" y1="55.73" x2="331.60" y2="55.73" stroke="#efefef" stroke-width="0.9" stroke-dasharray="2.6 2.4"/>
<text x="19.63" y="58.83" text-anchor="end" class="ya">25</text>
<line x1="26.33" y1="41.80" x2="331.60" y2="41.80" stroke="#efefef" stroke-width="0.9" stroke-dasharray="2.6 2.4"/>
<text x="19.63" y="44.90" text-anchor="end" class="ya">30</text>
<line x1="40.21" y1="125.40" x2="40.21" y2="128.90" stroke="#eeeeee" stroke-width="0.8"/>
<text x="40.21" y="139.70" text-anchor="middle" class="xa">17:12</text>
<text x="40.21" y="149.40" text-anchor="middle" class="xa" textLength="26.5" lengthAdjust="spacing">09–06</text>
<line x1="95.71" y1="125.40" x2="95.71" y2="128.90" stroke="#eeeeee" stroke-width="0.8"/>
<text x="95.71" y="139.70" text-anchor="middle" class="xa">17:14</text>
<text x="95.71" y="149.40" text-anchor="middle" class="xa" textLength="26.5" lengthAdjust="spacing">09–06</text>
<line x1="151.21" y1="125.40" x2="151.21" y2="128.90" stroke="#eeeeee" stroke-width="0.8"/>
<text x="151.21" y="139.70" text-anchor="middle" class="xa">17:16</text>
<text x="151.21" y="149.40" text-anchor="middle" class="xa" textLength="26.5" lengthAdjust="spacing">09–06</text>
<line x1="206.72" y1="125.40" x2="206.72" y2="128.90" stroke="#eeeeee" stroke-width="0.8"/>
<text x="206.72" y="139.70" text-anchor="middle" class="xa">17:18</text>
<text x="206.72" y="149.40" text-anchor="middle" class="xa" textLength="26.5" lengthAdjust="spacing">09–06</text>
<line x1="262.22" y1="125.40" x2="262.22" y2="128.90" stroke="#eeeeee" stroke-width="0.8"/>
<text x="262.22" y="139.70" text-anchor="middle" class="xa">17:20</text>
<text x="262.22" y="149.40" text-anchor="middle" class="xa" textLength="26.5" lengthAdjust="spacing">09–06</text>
<line x1="317.72" y1="125.40" x2="317.72" y2="128.90" stroke="#eeeeee" stroke-width="0.8"/>
<text x="317.72" y="139.70" text-anchor="middle" class="xa">17:22</text>
<text x="317.72" y="149.40" text-anchor="middle" class="xa" textLength="26.5" lengthAdjust="spacing">09–06</text>
<polyline points="40.21,125.40 67.96,58.52 95.71,41.80 123.46,41.80 151.21,41.80 178.97,41.80 206.72,41.80 234.47,41.80 262.22,41.80 289.97,41.80 317.72,41.80" fill="none" stroke="#3d9fdc" stroke-width="1.35" stroke-linejoin="round" />
</svg></div><div class="panel" style="left:1243.6px;top:593.0px;height:159.4px">
<div class="ph"><span class="pt">Read Package Size (Server) (KB)</span></div>
<svg class="cs" width="348.8" height="159.2" viewBox="0 0 348.8 159.2">
<line x1="21.22" y1="125.40" x2="331.60" y2="125.40" stroke="#efefef" stroke-width="0.9" stroke-dasharray="2.6 2.4"/>
<text x="14.52" y="128.50" text-anchor="end" class="ya">0</text>
<line x1="21.22" y1="113.46" x2="331.60" y2="113.46" stroke="#efefef" stroke-width="0.9" stroke-dasharray="2.6 2.4"/>
<text x="14.52" y="116.56" text-anchor="end" class="ya">1</text>
<line x1="21.22" y1="101.51" x2="331.60" y2="101.51" stroke="#efefef" stroke-width="0.9" stroke-dasharray="2.6 2.4"/>
<text x="14.52" y="104.61" text-anchor="end" class="ya">2</text>
<line x1="21.22" y1="89.57" x2="331.60" y2="89.57" stroke="#efefef" stroke-width="0.9" stroke-dasharray="2.6 2.4"/>
<text x="14.52" y="92.67" text-anchor="end" class="ya">3</text>
<line x1="21.22" y1="77.63" x2="331.60" y2="77.63" stroke="#efefef" stroke-width="0.9" stroke-dasharray="2.6 2.4"/>
<text x="14.52" y="80.73" text-anchor="end" class="ya">4</text>
<line x1="21.22" y1="65.69" x2="331.60" y2="65.69" stroke="#efefef" stroke-width="0.9" stroke-dasharray="2.6 2.4"/>
<text x="14.52" y="68.79" text-anchor="end" class="ya">5</text>
<line x1="21.22" y1="53.74" x2="331.60" y2="53.74" stroke="#efefef" stroke-width="0.9" stroke-dasharray="2.6 2.4"/>
<text x="14.52" y="56.84" text-anchor="end" class="ya">6</text>
<line x1="21.22" y1="41.80" x2="331.60" y2="41.80" stroke="#efefef" stroke-width="0.9" stroke-dasharray="2.6 2.4"/>
<text x="14.52" y="44.90" text-anchor="end" class="ya">7</text>
<line x1="35.32" y1="125.40" x2="35.32" y2="128.90" stroke="#eeeeee" stroke-width="0.8"/>
<text x="35.32" y="139.70" text-anchor="middle" class="xa">17:12</text>
<text x="35.32" y="149.40" text-anchor="middle" class="xa" textLength="26.5" lengthAdjust="spacing">09–06</text>
<line x1="91.76" y1="125.40" x2="91.76" y2="128.90" stroke="#eeeeee" stroke-width="0.8"/>
<text x="91.76" y="139.70" text-anchor="middle" class="xa">17:14</text>
<text x="91.76" y="149.40" text-anchor="middle" class="xa" textLength="26.5" lengthAdjust="spacing">09–06</text>
<line x1="148.19" y1="125.40" x2="148.19" y2="128.90" stroke="#eeeeee" stroke-width="0.8"/>
<text x="148.19" y="139.70" text-anchor="middle" class="xa">17:16</text>
<text x="148.19" y="149.40" text-anchor="middle" class="xa" textLength="26.5" lengthAdjust="spacing">09–06</text>
<line x1="204.62" y1="125.40" x2="204.62" y2="128.90" stroke="#eeeeee" stroke-width="0.8"/>
<text x="204.62" y="139.70" text-anchor="middle" class="xa">17:18</text>
<text x="204.62" y="149.40" text-anchor="middle" class="xa" textLength="26.5" lengthAdjust="spacing">09–06</text>
<line x1="261.06" y1="125.40" x2="261.06" y2="128.90" stroke="#eeeeee" stroke-width="0.8"/>
<text x="261.06" y="139.70" text-anchor="middle" class="xa">17:20</text>
<text x="261.06" y="149.40" text-anchor="middle" class="xa" textLength="26.5" lengthAdjust="spacing">09–06</text>
<line x1="317.49" y1="125.40" x2="317.49" y2="128.90" stroke="#eeeeee" stroke-width="0.8"/>
<text x="317.49" y="139.70" text-anchor="middle" class="xa">17:22</text>
<text x="317.49" y="149.40" text-anchor="middle" class="xa" textLength="26.5" lengthAdjust="spacing">09–06</text>
<polyline points="35.32,125.40 63.54,65.69 91.76,51.35 119.97,51.35 148.19,51.35 176.41,51.35 204.62,51.35 232.84,51.35 261.06,51.35 289.27,51.35 317.49,51.35" fill="none" stroke="#3d9fdc" stroke-width="1.35" stroke-linejoin="round" />
</svg></div><div class="panel" style="left:175.0px;top:759.6px;height:159.2px">
<div class="ph"><span class="pt">Read OP Avg Time (Client) (ms)</span></div>
<svg class="cs" width="348.8" height="159.2" viewBox="0 0 348.8 159.2">
<line x1="39.12" y1="125.40" x2="331.60" y2="125.40" stroke="#efefef" stroke-width="0.9" stroke-dasharray="2.6 2.4"/>
<text x="32.42" y="128.50" text-anchor="end" class="ya">0</text>
<line x1="39.12" y1="108.68" x2="331.60" y2="108.68" stroke="#efefef" stroke-width="0.9" stroke-dasharray="2.6 2.4"/>
<text x="32.42" y="111.78" text-anchor="end" class="ya">0.002</text>
<line x1="39.12" y1="91.96" x2="331.60" y2="91.96" stroke="#efefef" stroke-width="0.9" stroke-dasharray="2.6 2.4"/>
<text x="32.42" y="95.06" text-anchor="end" class="ya">0.004</text>
<line x1="39.12" y1="75.24" x2="331.60" y2="75.24" stroke="#efefef" stroke-width="0.9" stroke-dasharray="2.6 2.4"/>
<text x="32.42" y="78.34" text-anchor="end" class="ya">0.006</text>
<line x1="39.12" y1="58.52" x2="331.60" y2="58.52" stroke="#efefef" stroke-width="0.9" stroke-dasharray="2.6 2.4"/>
<text x="32.42" y="61.62" text-anchor="end" class="ya">0.008</text>
<line x1="39.12" y1="41.80" x2="331.60" y2="41.80" stroke="#efefef" stroke-width="0.9" stroke-dasharray="2.6 2.4"/>
<text x="32.42" y="44.90" text-anchor="end" class="ya">0.01</text>
<line x1="52.41" y1="125.40" x2="52.41" y2="128.90" stroke="#eeeeee" stroke-width="0.8"/>
<text x="52.41" y="139.70" text-anchor="middle" class="xa">17:12</text>
<text x="52.41" y="149.40" text-anchor="middle" class="xa" textLength="26.5" lengthAdjust="spacing">09–06</text>
<line x1="105.59" y1="125.40" x2="105.59" y2="128.90" stroke="#eeeeee" stroke-width="0.8"/>
<text x="105.59" y="139.70" text-anchor="middle" class="xa">17:14</text>
<text x="105.59" y="149.40" text-anchor="middle" class="xa" textLength="26.5" lengthAdjust="spacing">09–06</text>
<line x1="158.77" y1="125.40" x2="158.77" y2="128.90" stroke="#eeeeee" stroke-width="0.8"/>
<text x="158.77" y="139.70" text-anchor="middle" class="xa">17:16</text>
<text x="158.77" y="149.40" text-anchor="middle" class="xa" textLength="26.5" lengthAdjust="spacing">09–06</text>
<line x1="211.95" y1="125.40" x2="211.95" y2="128.90" stroke="#eeeeee" stroke-width="0.8"/>
<text x="211.95" y="139.70" text-anchor="middle" class="xa">17:18</text>
<text x="211.95" y="149.40" text-anchor="middle" class="xa" textLength="26.5" lengthAdjust="spacing">09–06</text>
<line x1="265.13" y1="125.40" x2="265.13" y2="128.90" stroke="#eeeeee" stroke-width="0.8"/>
<text x="265.13" y="139.70" text-anchor="middle" class="xa">17:20</text>
<text x="265.13" y="149.40" text-anchor="middle" class="xa" textLength="26.5" lengthAdjust="spacing">09–06</text>
<line x1="318.31" y1="125.40" x2="318.31" y2="128.90" stroke="#eeeeee" stroke-width="0.8"/>
<text x="318.31" y="139.70" text-anchor="middle" class="xa">17:22</text>
<text x="318.31" y="149.40" text-anchor="middle" class="xa" textLength="26.5" lengthAdjust="spacing">09–06</text>
<polyline points="52.41,125.40 79.00,41.80 105.59,41.80 132.18,41.80 158.77,41.80 185.36,41.80 211.95,41.80 238.54,41.80 265.13,41.80 291.72,41.80 318.31,41.80" fill="none" stroke="#3d9fdc" stroke-width="1.35" stroke-linejoin="round" />
</svg></div><div class="panel" style="left:531.2px;top:759.6px;height:159.2px">
<div class="ph"><span class="pt">Read OP Exe Time Percentile (client) (ms)</span></div>
<svg class="cs" width="348.8" height="159.2" viewBox="0 0 348.8 159.2">
<line x1="34.00" y1="125.40" x2="331.60" y2="125.40" stroke="#efefef" stroke-width="0.9" stroke-dasharray="2.6 2.4"/>
<text x="27.30" y="128.50" text-anchor="end" class="ya">0</text>
<line x1="34.00" y1="115.38" x2="331.60" y2="115.38" stroke="#efefef" stroke-width="0.9" stroke-dasharray="2.6 2.4"/>
<text x="27.30" y="118.48" text-anchor="end" class="ya">0.02</text>
<line x1="34.00" y1="105.36" x2="331.60" y2="105.36" stroke="#efefef" stroke-width="0.9" stroke-dasharray="2.6 2.4"/>
<text x="27.30" y="108.46" text-anchor="end" class="ya">0.04</text>
<line x1="34.00" y1="95.34" x2="331.60" y2="95.34" stroke="#efefef" stroke-width="0.9" stroke-dasharray="2.6 2.4"/>
<text x="27.30" y="98.44" text-anchor="end" class="ya">0.06</text>
<line x1="34.00" y1="85.32" x2="331.60" y2="85.32" stroke="#efefef" stroke-width="0.9" stroke-dasharray="2.6 2.4"/>
<text x="27.30" y="88.42" text-anchor="end" class="ya">0.08</text>
<line x1="34.00" y1="75.30" x2="331.60" y2="75.30" stroke="#efefef" stroke-width="0.9" stroke-dasharray="2.6 2.4"/>
<text x="27.30" y="78.40" text-anchor="end" class="ya">0.1</text>
<line x1="47.53" y1="125.40" x2="47.53" y2="128.90" stroke="#eeeeee" stroke-width="0.8"/>
<text x="47.53" y="139.70" text-anchor="middle" class="xa">17:12</text>
<text x="47.53" y="149.40" text-anchor="middle" class="xa" textLength="26.5" lengthAdjust="spacing">09–06</text>
<line x1="101.64" y1="125.40" x2="101.64" y2="128.90" stroke="#eeeeee" stroke-width="0.8"/>
<text x="101.64" y="139.70" text-anchor="middle" class="xa">17:14</text>
<text x="101.64" y="149.40" text-anchor="middle" class="xa" textLength="26.5" lengthAdjust="spacing">09–06</text>
<line x1="155.75" y1="125.40" x2="155.75" y2="128.90" stroke="#eeeeee" stroke-width="0.8"/>
<text x="155.75" y="139.70" text-anchor="middle" class="xa">17:16</text>
<text x="155.75" y="149.40" text-anchor="middle" class="xa" textLength="26.5" lengthAdjust="spacing">09–06</text>
<line x1="209.86" y1="125.40" x2="209.86" y2="128.90" stroke="#eeeeee" stroke-width="0.8"/>
<text x="209.86" y="139.70" text-anchor="middle" class="xa">17:18</text>
<text x="209.86" y="149.40" text-anchor="middle" class="xa" textLength="26.5" lengthAdjust="spacing">09–06</text>
<line x1="263.96" y1="125.40" x2="263.96" y2="128.90" stroke="#eeeeee" stroke-width="0.8"/>
<text x="263.96" y="139.70" text-anchor="middle" class="xa">17:20</text>
<text x="263.96" y="149.40" text-anchor="middle" class="xa" textLength="26.5" lengthAdjust="spacing">09–06</text>
<line x1="318.07" y1="125.40" x2="318.07" y2="128.90" stroke="#eeeeee" stroke-width="0.8"/>
<text x="318.07" y="139.70" text-anchor="middle" class="xa">17:22</text>
<text x="318.07" y="149.40" text-anchor="middle" class="xa" textLength="26.5" lengthAdjust="spacing">09–06</text>
<circle cx="18.2" cy="39.8" r="4.8" fill="#3a98d6"/>
<text x="27.0" y="43.5" class="lg">50</text>
<circle cx="52.6" cy="39.8" r="4.8" fill="#66d6dc"/>
<text x="61.400000000000006" y="43.5" class="lg">70</text>
<circle cx="86.4" cy="39.8" r="4.8" fill="#fbd35a"/>
<text x="95.2" y="43.5" class="lg">90</text>
<circle cx="121.30000000000001" cy="39.8" r="4.8" fill="#f7896c"/>
<text x="130.1" y="43.5" class="lg">99</text>
</svg></div><div class="panel" style="left:887.4px;top:759.6px;height:159.2px">
<div class="ph"><span class="pt">Read OP Avg Time (Server) (ms)</span></div>
<svg class="cs" width="348.8" height="159.2" viewBox="0 0 348.8 159.2">
<line x1="39.12" y1="125.40" x2="331.60" y2="125.40" stroke="#efefef" stroke-width="0.9" stroke-dasharray="2.6 2.4"/>
<text x="32.42" y="128.50" text-anchor="end" class="ya">0</text>
<line x1="39.12" y1="108.68" x2="331.60" y2="108.68" stroke="#efefef" stroke-width="0.9" stroke-dasharray="2.6 2.4"/>
<text x="32.42" y="111.78" text-anchor="end" class="ya">0.002</text>
<line x1="39.12" y1="91.96" x2="331.60" y2="91.96" stroke="#efefef" stroke-width="0.9" stroke-dasharray="2.6 2.4"/>
<text x="32.42" y="95.06" text-anchor="end" class="ya">0.004</text>
<line x1="39.12" y1="75.24" x2="331.60" y2="75.24" stroke="#efefef" stroke-width="0.9" stroke-dasharray="2.6 2.4"/>
<text x="32.42" y="78.34" text-anchor="end" class="ya">0.006</text>
<line x1="39.12" y1="58.52" x2="331.60" y2="58.52" stroke="#efefef" stroke-width="0.9" stroke-dasharray="2.6 2.4"/>
<text x="32.42" y="61.62" text-anchor="end" class="ya">0.008</text>
<line x1="39.12" y1="41.80" x2="331.60" y2="41.80" stroke="#efefef" stroke-width="0.9" stroke-dasharray="2.6 2.4"/>
<text x="32.42" y="44.90" text-anchor="end" class="ya">0.01</text>
<line x1="52.41" y1="125.40" x2="52.41" y2="128.90" stroke="#eeeeee" stroke-width="0.8"/>
<text x="52.41" y="139.70" text-anchor="middle" class="xa">17:12</text>
<text x="52.41" y="149.40" text-anchor="middle" class="xa" textLength="26.5" lengthAdjust="spacing">09–06</text>
<line x1="105.59" y1="125.40" x2="105.59" y2="128.90" stroke="#eeeeee" stroke-width="0.8"/>
<text x="105.59" y="139.70" text-anchor="middle" class="xa">17:14</text>
<text x="105.59" y="149.40" text-anchor="middle" class="xa" textLength="26.5" lengthAdjust="spacing">09–06</text>
<line x1="158.77" y1="125.40" x2="158.77" y2="128.90" stroke="#eeeeee" stroke-width="0.8"/>
<text x="158.77" y="139.70" text-anchor="middle" class="xa">17:16</text>
<text x="158.77" y="149.40" text-anchor="middle" class="xa" textLength="26.5" lengthAdjust="spacing">09–06</text>
<line x1="211.95" y1="125.40" x2="211.95" y2="128.90" stroke="#eeeeee" stroke-width="0.8"/>
<text x="211.95" y="139.70" text-anchor="middle" class="xa">17:18</text>
<text x="211.95" y="149.40" text-anchor="middle" class="xa" textLength="26.5" lengthAdjust="spacing">09–06</text>
<line x1="265.13" y1="125.40" x2="265.13" y2="128.90" stroke="#eeeeee" stroke-width="0.8"/>
<text x="265.13" y="139.70" text-anchor="middle" class="xa">17:20</text>
<text x="265.13" y="149.40" text-anchor="middle" class="xa" textLength="26.5" lengthAdjust="spacing">09–06</text>
<line x1="318.31" y1="125.40" x2="318.31" y2="128.90" stroke="#eeeeee" stroke-width="0.8"/>
<text x="318.31" y="139.70" text-anchor="middle" class="xa">17:22</text>
<text x="318.31" y="149.40" text-anchor="middle" class="xa" textLength="26.5" lengthAdjust="spacing">09–06</text>
<polyline points="52.41,125.40 79.00,41.80 105.59,41.80 132.18,41.80 158.77,41.80 185.36,41.80 211.95,41.80 238.54,41.80 265.13,41.80 291.72,41.80 318.31,41.80" fill="none" stroke="#3d9fdc" stroke-width="1.35" stroke-linejoin="round" />
</svg></div><div class="panel" style="left:1243.6px;top:759.6px;height:159.2px">
<div class="ph"><span class="pt">Read OP Exe Time Percentile (server) (ms)</span></div>
<svg class="cs" width="348.8" height="159.2" viewBox="0 0 348.8 159.2">
<line x1="34.00" y1="125.40" x2="331.60" y2="125.40" stroke="#efefef" stroke-width="0.9" stroke-dasharray="2.6 2.4"/>
<text x="27.30" y="128.50" text-anchor="end" class="ya">0</text>
<line x1="34.00" y1="115.38" x2="331.60" y2="115.38" stroke="#efefef" stroke-width="0.9" stroke-dasharray="2.6 2.4"/>
<text x="27.30" y="118.48" text-anchor="end" class="ya">0.02</text>
<line x1="34.00" y1="105.36" x2="331.60" y2="105.36" stroke="#efefef" stroke-width="0.9" stroke-dasharray="2.6 2.4"/>
<text x="27.30" y="108.46" text-anchor="end" class="ya">0.04</text>
<line x1="34.00" y1="95.34" x2="331.60" y2="95.34" stroke="#efefef" stroke-width="0.9" stroke-dasharray="2.6 2.4"/>
<text x="27.30" y="98.44" text-anchor="end" class="ya">0.06</text>
<line x1="34.00" y1="85.32" x2="331.60" y2="85.32" stroke="#efefef" stroke-width="0.9" stroke-dasharray="2.6 2.4"/>
<text x="27.30" y="88.42" text-anchor="end" class="ya">0.08</text>
<line x1="34.00" y1="75.30" x2="331.60" y2="75.30" stroke="#efefef" stroke-width="0.9" stroke-dasharray="2.6 2.4"/>
<text x="27.30" y="78.40" text-anchor="end" class="ya">0.1</text>
<line x1="47.53" y1="125.40" x2="47.53" y2="128.90" stroke="#eeeeee" stroke-width="0.8"/>
<text x="47.53" y="139.70" text-anchor="middle" class="xa">17:12</text>
<text x="47.53" y="149.40" text-anchor="middle" class="xa" textLength="26.5" lengthAdjust="spacing">09–06</text>
<line x1="101.64" y1="125.40" x2="101.64" y2="128.90" stroke="#eeeeee" stroke-width="0.8"/>
<text x="101.64" y="139.70" text-anchor="middle" class="xa">17:14</text>
<text x="101.64" y="149.40" text-anchor="middle" class="xa" textLength="26.5" lengthAdjust="spacing">09–06</text>
<line x1="155.75" y1="125.40" x2="155.75" y2="128.90" stroke="#eeeeee" stroke-width="0.8"/>
<text x="155.75" y="139.70" text-anchor="middle" class="xa">17:16</text>
<text x="155.75" y="149.40" text-anchor="middle" class="xa" textLength="26.5" lengthAdjust="spacing">09–06</text>
<line x1="209.86" y1="125.40" x2="209.86" y2="128.90" stroke="#eeeeee" stroke-width="0.8"/>
<text x="209.86" y="139.70" text-anchor="middle" class="xa">17:18</text>
<text x="209.86" y="149.40" text-anchor="middle" class="xa" textLength="26.5" lengthAdjust="spacing">09–06</text>
<line x1="263.96" y1="125.40" x2="263.96" y2="128.90" stroke="#eeeeee" stroke-width="0.8"/>
<text x="263.96" y="139.70" text-anchor="middle" class="xa">17:20</text>
<text x="263.96" y="149.40" text-anchor="middle" class="xa" textLength="26.5" lengthAdjust="spacing">09–06</text>
<line x1="318.07" y1="125.40" x2="318.07" y2="128.90" stroke="#eeeeee" stroke-width="0.8"/>
<text x="318.07" y="139.70" text-anchor="middle" class="xa">17:22</text>
<text x="318.07" y="149.40" text-anchor="middle" class="xa" textLength="26.5" lengthAdjust="spacing">09–06</text>
<circle cx="18.2" cy="39.8" r="4.8" fill="#3a98d6"/>
<text x="27.0" y="43.5" class="lg">50</text>
<circle cx="52.6" cy="39.8" r="4.8" fill="#66d6dc"/>
<text x="61.400000000000006" y="43.5" class="lg">70</text>
<circle cx="86.4" cy="39.8" r="4.8" fill="#fbd35a"/>
<text x="95.2" y="43.5" class="lg">90</text>
<circle cx="121.30000000000001" cy="39.8" r="4.8" fill="#f7896c"/>
<text x="130.1" y="43.5" class="lg">99</text>
</svg></div>
<div id="side">
<div class="logo">Skywalking</div>
<svg class="abs" style="left:93px;top:10px" width="17" height="19" viewBox="0 0 17 19"><path d="M1 2.5 C6 -0.5 14 1 15.5 8.5 C16.5 13 14 16 10.5 17 C13 12 10 4.5 1 2.5 Z" fill="#fff"/></svg>
<div class="ni" style="left:20px;top:54.5px"><svg width="15" height="16" viewBox="0 0 15 16"><path d="M0.95 0.6 V14.4 H13.8" fill="none" stroke="#e9e9ea" stroke-width="1.9"/><path d="M2.8 12.4 V4 L5.6 5.8 L7.5 4.8 L10.4 7.7 L12.6 6.4 V12.4 Z" fill="#e9e9ea"/></svg></div><div class="nt" style="left:46.6px;top:56.0px">General Service</div><div class="ni" style="left:141px;top:60.5px"><svg width="8" height="5" viewBox="0 0 8 5"><path d="M0.6 0.7 L4 4 L7.4 0.7" fill="none" stroke="#c9cacb" stroke-width="0.9"/></svg></div><div class="ni" style="left:20px;top:98px"><svg width="15" height="15" viewBox="0 0 15 15"><path d="M3.2 1.2 H11.8 L13.8 4.8 V7 H1.2 V4.8 Z" fill="#e9e9ea"/><path d="M4 2.8 H11 L12 4.9 H3 Z" fill="#252a2f"/><rect x="1.2" y="8.3" width="12.6" height="2.1" fill="#e9e9ea"/><rect x="1.2" y="11.6" width="12.6" height="2.1" fill="#e9e9ea"/></svg></div><div class="nt" style="left:46.6px;top:97.7px">Service Mesh</div><div class="ni" style="left:141px;top:102.2px"><svg width="8" height="5" viewBox="0 0 8 5"><path d="M0.6 0.7 L4 4 L7.4 0.7" fill="none" stroke="#c9cacb" stroke-width="0.9"/></svg></div><div class="ni" style="left:16px;top:140.5px"><svg width="20" height="14" viewBox="0 0 20 14"><path d="M5 12.8 H15.5 A3.4 3.4 0 0 0 15.6 6 A5.2 5.2 0 0 0 5.6 4.8 A4 4 0 0 0 5 12.8 Z" fill="none" stroke="#e9e9ea" stroke-width="1.5"/></svg></div><div class="nt" style="left:45.3px;top:139.4px">Functions</div><div class="ni" style="left:18px;top:180px"><svg width="17" height="17" viewBox="0 0 17 17"><circle cx="8.5" cy="8.5" r="7.6" fill="#e9e9ea"/><path d="M8.5 0.5 V16.5 M8.5 8.5 H16.5" stroke="#252a2f" stroke-width="1.3"/><circle cx="8.3" cy="8.5" r="1.7" fill="#252a2f"/></svg></div><div class="nt" style="left:46.6px;top:181.1px">Kubernetes</div><div class="ni" style="left:141px;top:185.6px"><svg width="8" height="5" viewBox="0 0 8 5"><path d="M0.6 0.7 L4 4 L7.4 0.7" fill="none" stroke="#c9cacb" stroke-width="0.9"/></svg></div><div class="ni" style="left:20px;top:222.5px"><svg width="14" height="15" viewBox="0 0 14 15"><circle cx="5.9" cy="2.9" r="2.45" fill="#e9e9ea"/><circle cx="2.7" cy="9.2" r="2.45" fill="#e9e9ea"/><circle cx="10.2" cy="11.9" r="2.45" fill="#e9e9ea"/></svg></div><div class="nt" style="left:46.6px;top:222.8px">Infrastructure</div><div class="ni" style="left:141px;top:227.3px"><svg width="8" height="5" viewBox="0 0 8 5"><path d="M0.6 0.7 L4 4 L7.4 0.7" fill="none" stroke="#c9cacb" stroke-width="0.9"/></svg></div><div class="ni" style="left:18px;top:263.5px"><svg width="17" height="17" viewBox="0 0 17 17"><g fill="none" stroke="#e9e9ea" stroke-width="1.4"><circle cx="8.5" cy="8.5" r="7.2"/><ellipse cx="8.5" cy="8.5" rx="3.1" ry="7.2"/><path d="M1.3 6 H15.7 M1.3 11 H15.7 M8.5 1.3 V15.7"/></g></svg></div><div class="nt" style="left:45.3px;top:264.5px">Browser</div><div class="ni" style="left:19px;top:307px"><svg width="16" height="14" viewBox="0 0 16 14"><g fill="#e9e9ea"><rect x="0.8" y="0.8" width="14.6" height="3"/><rect x="0.8" y="5.3" width="14.6" height="3"/><rect x="0.8" y="9.8" width="14.6" height="3"/></g><g fill="#252a2f"><rect x="2" y="1.8" width="1.2" height="1"/><rect x="2" y="6.3" width="1.2" height="1"/><rect x="2" y="10.8" width="1.2" height="1"/></g></svg></div><div class="nt" style="left:46.6px;top:306.2px">Database</div><div class="ni" style="left:141px;top:310.7px"><svg width="8" height="5" viewBox="0 0 8 5"><path d="M0.6 0.7 L4 4 L7.4 0.7" fill="none" stroke="#c9cacb" stroke-width="0.9"/></svg></div><div class="ni" style="left:17px;top:348.5px"><svg width="22" height="14" viewBox="0 0 22 14"><text x="-0.2" y="10.2" font-family="Liberation Sans" font-size="12.6" font-weight="700" fill="#1e7fd0" letter-spacing="-1.2">Sw</text><g transform="translate(12.9 0.5) scale(0.42)"><path d="M1 2.5 C6 -0.5 14 1 15.5 8.5 C16.5 13 14 16 10.5 17 C13 12 10 4.5 1 2.5 Z" fill="#f0f0f0"/></g></svg></div><div class="nt" style="left:46.6px;top:347.9px">Self Observability</div><div class="ni" style="left:141px;top:352.4px"><svg width="8" height="5" viewBox="0 0 8 5"><path d="M0.6 0.7 L4 4 L7.4 0.7" fill="none" stroke="#c9cacb" stroke-width="0.9"/></svg></div><div class="ni" style="left:19px;top:389.5px"><svg width="15" height="15" viewBox="0 0 15 15"><g fill="#e9e9ea"><rect x="1" y="1" width="5.6" height="5.6"/><rect x="8" y="1" width="5.6" height="5.6"/><rect x="1" y="8" width="5.6" height="5.6"/><rect x="10" y="8.2" width="1.5" height="6"/><rect x="7.8" y="10.4" width="6" height="1.5"/></g></svg></div><div class="nt" style="left:46.6px;top:389.6px">Dashboards</div><div class="ni" style="left:141px;top:394.1px"><svg width="8" height="5" viewBox="0 0 8 5"><path d="M0.6 0.7 L4 4 L7.4 0.7" fill="none" stroke="#c9cacb" stroke-width="0.9"/></svg></div><div class="ni" style="left:18px;top:431px"><svg width="16" height="16" viewBox="0 0 16 16"><path d="M8 1.3 L14 4.7 V11.3 L8 14.7 L2 11.3 V4.7 Z" fill="none" stroke="#e9e9ea" stroke-width="2.1" stroke-linejoin="round"/><rect x="7.2" y="4.2" width="1.6" height="4.6" rx="0.6" fill="#e9e9ea"/><rect x="7.2" y="9.8" width="1.6" height="1.6" rx="0.5" fill="#e9e9ea"/></svg></div><div class="nt" style="left:45.3px;top:431.3px">Alerting</div><div class="ni" style="left:18px;top:472.5px"><svg width="16" height="16" viewBox="0 0 16 16"><g fill="#e9e9ea"><circle cx="8" cy="8" r="5.4"/><g><rect x="6.6" y="0.6" width="2.8" height="3.4" transform="rotate(0 8 8)"/><rect x="6.6" y="0.6" width="2.8" height="3.4" transform="rotate(45 8 8)"/><rect x="6.6" y="0.6" width="2.8" height="3.4" transform="rotate(90 8 8)"/><rect x="6.6" y="0.6" width="2.8" height="3.4" transform="rotate(135 8 8)"/><rect x="6.6" y="0.6" width="2.8" height="3.4" transform="rotate(180 8 8)"/><rect x="6.6" y="0.6" width="2.8" height="3.4" transform="rotate(225 8 8)"/><rect x="6.6" y="0.6" width="2.8" height="3.4" transform="rotate(270 8 8)"/><rect x="6.6" y="0.6" width="2.8" height="3.4" transform="rotate(315 8 8)"/></g></g><circle cx="8" cy="8" r="2.1" fill="#252a2f"/></svg></div><div class="nt" style="left:45.3px;top:473.0px">Settings</div>
</div>
<div class="abs" style="left:0;top:803px;width:8px;height:8px;background:radial-gradient(circle at 8px 0, transparent 7px, #000 8px)"></div>
<div class="abs" style="left:1592px;top:802px;width:8px;height:8px;background:radial-gradient(circle at 0 0, transparent 7px, #000 8px)"></div>
</body></html>
